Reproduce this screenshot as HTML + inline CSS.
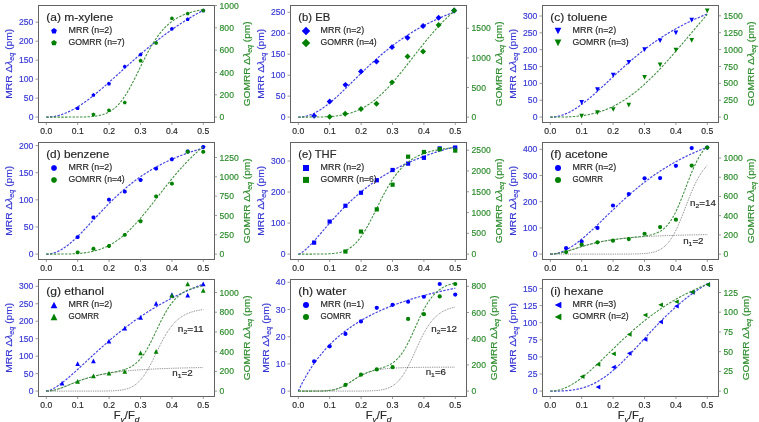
<!DOCTYPE html>
<html><head><meta charset="utf-8"><style>
html,body{margin:0;padding:0;background:#fff;width:759px;height:422px;overflow:hidden}
svg{display:block;filter:blur(0.3px);font-family:"Liberation Sans", sans-serif}
text{stroke:currentColor;stroke-width:0.16px;paint-order:stroke}
</style></head><body>
<svg width="759" height="422" viewBox="0 0 759 422">
<rect x="0" y="0" width="759" height="422" fill="#fff"/>
<g><path d="M46.30,117.10 L47.35,117.09 L48.41,117.05 L49.46,116.99 L50.51,116.90 L51.57,116.79 L52.62,116.66 L53.68,116.50 L54.73,116.32 L55.78,116.11 L56.84,115.88 L57.89,115.63 L58.94,115.36 L60.00,115.06 L61.05,114.73 L62.11,114.39 L63.16,114.02 L64.21,113.63 L65.27,113.22 L66.32,112.79 L67.37,112.34 L68.43,111.86 L69.48,111.37 L70.53,110.86 L71.59,110.32 L72.64,109.77 L73.70,109.20 L74.75,108.61 L75.80,108.00 L76.86,107.38 L77.91,106.74 L78.96,106.08 L80.02,105.40 L81.07,104.71 L82.13,104.01 L83.18,103.29 L84.23,102.55 L85.29,101.80 L86.34,101.04 L87.39,100.27 L88.45,99.48 L89.50,98.68 L90.56,97.87 L91.61,97.05 L92.66,96.22 L93.72,95.38 L94.77,94.52 L95.82,93.66 L96.88,92.80 L97.93,91.92 L98.98,91.03 L100.04,90.14 L101.09,89.24 L102.15,88.34 L103.20,87.43 L104.25,86.51 L105.31,85.59 L106.36,84.66 L107.41,83.73 L108.47,82.80 L109.52,81.86 L110.58,80.92 L111.63,79.97 L112.68,79.03 L113.74,78.08 L114.79,77.13 L115.84,76.18 L116.90,75.22 L117.95,74.27 L119.00,73.32 L120.06,72.36 L121.11,71.41 L122.17,70.46 L123.22,69.50 L124.27,68.55 L125.33,67.60 L126.38,66.65 L127.43,65.71 L128.49,64.76 L129.54,63.82 L130.60,62.88 L131.65,61.94 L132.70,61.01 L133.76,60.08 L134.81,59.15 L135.86,58.23 L136.92,57.31 L137.97,56.39 L139.02,55.48 L140.08,54.57 L141.13,53.66 L142.19,52.76 L143.24,51.87 L144.29,50.98 L145.35,50.09 L146.40,49.21 L147.45,48.33 L148.51,47.46 L149.56,46.60 L150.62,45.73 L151.67,44.88 L152.72,44.03 L153.78,43.19 L154.83,42.35 L155.88,41.51 L156.94,40.69 L157.99,39.87 L159.04,39.05 L160.10,38.24 L161.15,37.44 L162.21,36.64 L163.26,35.85 L164.31,35.06 L165.37,34.28 L166.42,33.51 L167.47,32.74 L168.53,31.98 L169.58,31.22 L170.64,30.47 L171.69,29.73 L172.74,28.99 L173.80,28.26 L174.85,27.53 L175.90,26.81 L176.96,26.10 L178.01,25.39 L179.07,24.69 L180.12,24.00 L181.17,23.31 L182.23,22.63 L183.28,21.95 L184.33,21.28 L185.39,20.62 L186.44,19.96 L187.49,19.30 L188.55,18.66 L189.60,18.02 L190.66,17.38 L191.71,16.75 L192.76,16.13 L193.82,15.51 L194.87,14.90 L195.92,14.29 L196.98,13.69 L198.03,13.10 L199.09,12.51 L200.14,11.93 L201.19,11.35 L202.25,10.77 L203.30,10.21" fill="none" stroke="#4646de" stroke-width="1.2" stroke-dasharray="2.4 1.35"/>
<polygon points="77.65,106.31 79.64,107.76 78.88,110.11 76.41,110.11 75.65,107.76" fill="#0000ff"/>
<polygon points="93.45,93.00 95.44,94.45 94.68,96.80 92.21,96.80 91.45,94.45" fill="#0000ff"/>
<polygon points="108.97,81.64 110.97,83.09 110.21,85.43 107.74,85.43 106.98,83.09" fill="#0000ff"/>
<polygon points="124.78,64.45 126.77,65.90 126.01,68.25 123.54,68.25 122.78,65.90" fill="#0000ff"/>
<polygon points="140.58,52.53 142.58,53.98 141.81,56.32 139.34,56.32 138.58,53.98" fill="#0000ff"/>
<polygon points="171.91,26.74 173.90,28.19 173.14,30.54 170.67,30.54 169.91,28.19" fill="#0000ff"/>
<polygon points="187.71,17.32 189.71,18.77 188.94,21.12 186.47,21.12 185.71,18.77" fill="#0000ff"/>
<polygon points="203.23,8.44 205.23,9.90 204.47,12.24 202.00,12.24 201.24,9.90" fill="#0000ff"/>
<path d="M46.30,117.10 L47.35,117.10 L48.41,117.10 L49.46,117.10 L50.51,117.10 L51.57,117.10 L52.62,117.10 L53.68,117.10 L54.73,117.10 L55.78,117.10 L56.84,117.10 L57.89,117.10 L58.94,117.10 L60.00,117.10 L61.05,117.10 L62.11,117.10 L63.16,117.10 L64.21,117.10 L65.27,117.10 L66.32,117.10 L67.37,117.10 L68.43,117.10 L69.48,117.09 L70.53,117.09 L71.59,117.09 L72.64,117.09 L73.70,117.08 L74.75,117.08 L75.80,117.07 L76.86,117.07 L77.91,117.06 L78.96,117.04 L80.02,117.03 L81.07,117.01 L82.13,116.99 L83.18,116.97 L84.23,116.94 L85.29,116.91 L86.34,116.87 L87.39,116.82 L88.45,116.77 L89.50,116.71 L90.56,116.64 L91.61,116.56 L92.66,116.46 L93.72,116.35 L94.77,116.23 L95.82,116.09 L96.88,115.93 L97.93,115.75 L98.98,115.55 L100.04,115.32 L101.09,115.07 L102.15,114.78 L103.20,114.47 L104.25,114.12 L105.31,113.73 L106.36,113.30 L107.41,112.83 L108.47,112.31 L109.52,111.74 L110.58,111.11 L111.63,110.44 L112.68,109.70 L113.74,108.90 L114.79,108.04 L115.84,107.11 L116.90,106.11 L117.95,105.04 L119.00,103.89 L120.06,102.67 L121.11,101.38 L122.17,100.01 L123.22,98.57 L124.27,97.05 L125.33,95.46 L126.38,93.80 L127.43,92.07 L128.49,90.28 L129.54,88.42 L130.60,86.51 L131.65,84.54 L132.70,82.53 L133.76,80.48 L134.81,78.39 L135.86,76.28 L136.92,74.14 L137.97,71.99 L139.02,69.83 L140.08,67.67 L141.13,65.52 L142.19,63.38 L143.24,61.25 L144.29,59.15 L145.35,57.08 L146.40,55.04 L147.45,53.05 L148.51,51.09 L149.56,49.18 L150.62,47.32 L151.67,45.51 L152.72,43.76 L153.78,42.06 L154.83,40.41 L155.88,38.83 L156.94,37.30 L157.99,35.83 L159.04,34.42 L160.10,33.06 L161.15,31.77 L162.21,30.52 L163.26,29.33 L164.31,28.20 L165.37,27.11 L166.42,26.08 L167.47,25.09 L168.53,24.15 L169.58,23.26 L170.64,22.41 L171.69,21.60 L172.74,20.83 L173.80,20.10 L174.85,19.41 L175.90,18.75 L176.96,18.12 L178.01,17.53 L179.07,16.96 L180.12,16.43 L181.17,15.92 L182.23,15.44 L183.28,14.98 L184.33,14.55 L185.39,14.14 L186.44,13.75 L187.49,13.38 L188.55,13.03 L189.60,12.70 L190.66,12.38 L191.71,12.08 L192.76,11.80 L193.82,11.53 L194.87,11.27 L195.92,11.03 L196.98,10.80 L198.03,10.58 L199.09,10.37 L200.14,10.18 L201.19,9.99 L202.25,9.81 L203.30,9.64" fill="none" stroke="#3d8d3d" stroke-width="1.05" stroke-dasharray="2.4 1.35"/>
<polygon points="93.45,112.41 95.44,113.86 94.68,116.21 92.21,116.21 91.45,113.86" fill="#008000"/>
<polygon points="108.97,108.25 110.97,109.70 110.21,112.05 107.74,112.05 106.98,109.70" fill="#008000"/>
<polygon points="124.78,100.49 126.77,101.94 126.01,104.29 123.54,104.29 122.78,101.94" fill="#008000"/>
<polygon points="140.58,58.62 142.58,60.08 141.81,62.42 139.34,62.42 138.58,60.08" fill="#008000"/>
<polygon points="156.10,40.88 158.10,42.33 157.34,44.68 154.87,44.68 154.11,42.33" fill="#008000"/>
<polygon points="171.91,16.21 173.90,17.66 173.14,20.01 170.67,20.01 169.91,17.66" fill="#008000"/>
<polygon points="187.71,11.49 189.71,12.95 188.94,15.29 186.47,15.29 185.71,12.95" fill="#008000"/>
<polygon points="203.23,8.44 205.23,9.90 204.47,12.24 202.00,12.24 201.24,9.90" fill="#008000"/>
<rect x="38.5" y="5.5" width="176" height="117" fill="none" stroke="#636363" stroke-width="1"/>
<line x1="46.30" y1="122.5" x2="46.30" y2="125.0" stroke="#808080" stroke-width="0.8"/>
<text x="46.30" y="133.80" font-size="8.60" fill="#262626" color="#262626" text-anchor="middle" textLength="11.93" lengthAdjust="spacingAndGlyphs">0.0</text>
<line x1="77.70" y1="122.5" x2="77.70" y2="125.0" stroke="#808080" stroke-width="0.8"/>
<text x="77.70" y="133.80" font-size="8.60" fill="#262626" color="#262626" text-anchor="middle" textLength="11.93" lengthAdjust="spacingAndGlyphs">0.1</text>
<line x1="109.10" y1="122.5" x2="109.10" y2="125.0" stroke="#808080" stroke-width="0.8"/>
<text x="109.10" y="133.80" font-size="8.60" fill="#262626" color="#262626" text-anchor="middle" textLength="11.93" lengthAdjust="spacingAndGlyphs">0.2</text>
<line x1="140.50" y1="122.5" x2="140.50" y2="125.0" stroke="#808080" stroke-width="0.8"/>
<text x="140.50" y="133.80" font-size="8.60" fill="#262626" color="#262626" text-anchor="middle" textLength="11.93" lengthAdjust="spacingAndGlyphs">0.3</text>
<line x1="171.90" y1="122.5" x2="171.90" y2="125.0" stroke="#808080" stroke-width="0.8"/>
<text x="171.90" y="133.80" font-size="8.60" fill="#262626" color="#262626" text-anchor="middle" textLength="11.93" lengthAdjust="spacingAndGlyphs">0.4</text>
<line x1="203.30" y1="122.5" x2="203.30" y2="125.0" stroke="#808080" stroke-width="0.8"/>
<text x="203.30" y="133.80" font-size="8.60" fill="#262626" color="#262626" text-anchor="middle" textLength="11.93" lengthAdjust="spacingAndGlyphs">0.5</text>
<line x1="35.5" y1="117.10" x2="38.5" y2="117.10" stroke="#808080" stroke-width="0.8"/>
<text x="33.40" y="120.15" font-size="8.60" fill="#3535d2" color="#3535d2" text-anchor="end" textLength="4.77" lengthAdjust="spacingAndGlyphs">0</text>
<line x1="35.5" y1="98.12" x2="38.5" y2="98.12" stroke="#808080" stroke-width="0.8"/>
<text x="33.40" y="101.17" font-size="8.60" fill="#3535d2" color="#3535d2" text-anchor="end" textLength="9.54" lengthAdjust="spacingAndGlyphs">50</text>
<line x1="35.5" y1="79.14" x2="38.5" y2="79.14" stroke="#808080" stroke-width="0.8"/>
<text x="33.40" y="82.19" font-size="8.60" fill="#3535d2" color="#3535d2" text-anchor="end" textLength="14.32" lengthAdjust="spacingAndGlyphs">100</text>
<line x1="35.5" y1="60.16" x2="38.5" y2="60.16" stroke="#808080" stroke-width="0.8"/>
<text x="33.40" y="63.21" font-size="8.60" fill="#3535d2" color="#3535d2" text-anchor="end" textLength="14.32" lengthAdjust="spacingAndGlyphs">150</text>
<line x1="35.5" y1="41.18" x2="38.5" y2="41.18" stroke="#808080" stroke-width="0.8"/>
<text x="33.40" y="44.23" font-size="8.60" fill="#3535d2" color="#3535d2" text-anchor="end" textLength="14.32" lengthAdjust="spacingAndGlyphs">200</text>
<line x1="35.5" y1="22.20" x2="38.5" y2="22.20" stroke="#808080" stroke-width="0.8"/>
<text x="33.40" y="25.25" font-size="8.60" fill="#3535d2" color="#3535d2" text-anchor="end" textLength="14.32" lengthAdjust="spacingAndGlyphs">250</text>
<line x1="214.5" y1="117.10" x2="217.0" y2="117.10" stroke="#808080" stroke-width="0.8"/>
<text x="219.60" y="120.15" font-size="8.60" fill="#2a8a2a" color="#2a8a2a" textLength="4.77" lengthAdjust="spacingAndGlyphs">0</text>
<line x1="214.5" y1="94.78" x2="217.0" y2="94.78" stroke="#808080" stroke-width="0.8"/>
<text x="219.60" y="97.83" font-size="8.60" fill="#2a8a2a" color="#2a8a2a" textLength="14.32" lengthAdjust="spacingAndGlyphs">200</text>
<line x1="214.5" y1="72.46" x2="217.0" y2="72.46" stroke="#808080" stroke-width="0.8"/>
<text x="219.60" y="75.51" font-size="8.60" fill="#2a8a2a" color="#2a8a2a" textLength="14.32" lengthAdjust="spacingAndGlyphs">400</text>
<line x1="214.5" y1="50.14" x2="217.0" y2="50.14" stroke="#808080" stroke-width="0.8"/>
<text x="219.60" y="53.19" font-size="8.60" fill="#2a8a2a" color="#2a8a2a" textLength="14.32" lengthAdjust="spacingAndGlyphs">600</text>
<line x1="214.5" y1="27.82" x2="217.0" y2="27.82" stroke="#808080" stroke-width="0.8"/>
<text x="219.60" y="30.87" font-size="8.60" fill="#2a8a2a" color="#2a8a2a" textLength="14.32" lengthAdjust="spacingAndGlyphs">800</text>
<line x1="214.5" y1="5.50" x2="217.0" y2="5.50" stroke="#808080" stroke-width="0.8"/>
<text x="219.60" y="8.55" font-size="8.60" fill="#2a8a2a" color="#2a8a2a" textLength="19.09" lengthAdjust="spacingAndGlyphs">1000</text>
<text x="46.20" y="20.70" font-size="11.13" fill="#262626" color="#262626" textLength="66.90" lengthAdjust="spacingAndGlyphs">(a) m-xylene</text>
<polygon points="54.00,28.00 56.85,30.07 55.76,33.43 52.24,33.43 51.15,30.07" fill="#0000ff"/>
<polygon points="54.00,39.90 56.85,41.97 55.76,45.33 52.24,45.33 51.15,41.97" fill="#008000"/>
<text x="68.60" y="33.20" font-size="8.40" fill="#262626" color="#262626" textLength="43.67" lengthAdjust="spacingAndGlyphs">MRR (n=2)</text>
<text x="68.60" y="45.10" font-size="8.40" fill="#262626" color="#262626" textLength="56.16" lengthAdjust="spacingAndGlyphs">GOMRR (n=7)</text></g>
<g><path d="M298.30,117.10 L299.35,117.08 L300.41,117.03 L301.46,116.94 L302.51,116.82 L303.57,116.66 L304.62,116.46 L305.68,116.24 L306.73,115.97 L307.78,115.68 L308.84,115.35 L309.89,114.99 L310.94,114.59 L312.00,114.16 L313.05,113.71 L314.11,113.22 L315.16,112.70 L316.21,112.15 L317.27,111.58 L318.32,110.97 L319.37,110.34 L320.43,109.68 L321.48,109.00 L322.53,108.29 L323.59,107.56 L324.64,106.81 L325.70,106.04 L326.75,105.24 L327.80,104.42 L328.86,103.59 L329.91,102.74 L330.96,101.87 L332.02,100.98 L333.07,100.08 L334.13,99.16 L335.18,98.23 L336.23,97.29 L337.29,96.33 L338.34,95.37 L339.39,94.39 L340.45,93.41 L341.50,92.41 L342.56,91.41 L343.61,90.40 L344.66,89.39 L345.72,88.37 L346.77,87.35 L347.82,86.32 L348.88,85.29 L349.93,84.25 L350.98,83.22 L352.04,82.18 L353.09,81.14 L354.15,80.11 L355.20,79.07 L356.25,78.04 L357.31,77.00 L358.36,75.97 L359.41,74.94 L360.47,73.92 L361.52,72.89 L362.58,71.87 L363.63,70.86 L364.68,69.85 L365.74,68.85 L366.79,67.85 L367.84,66.85 L368.90,65.87 L369.95,64.89 L371.00,63.91 L372.06,62.94 L373.11,61.98 L374.17,61.03 L375.22,60.08 L376.27,59.14 L377.33,58.21 L378.38,57.29 L379.43,56.37 L380.49,55.47 L381.54,54.57 L382.60,53.68 L383.65,52.80 L384.70,51.92 L385.76,51.06 L386.81,50.20 L387.86,49.35 L388.92,48.52 L389.97,47.69 L391.02,46.86 L392.08,46.05 L393.13,45.25 L394.19,44.45 L395.24,43.67 L396.29,42.89 L397.35,42.12 L398.40,41.37 L399.45,40.62 L400.51,39.87 L401.56,39.14 L402.62,38.42 L403.67,37.70 L404.72,37.00 L405.78,36.30 L406.83,35.61 L407.88,34.93 L408.94,34.25 L409.99,33.59 L411.04,32.93 L412.10,32.28 L413.15,31.64 L414.21,31.01 L415.26,30.39 L416.31,29.77 L417.37,29.16 L418.42,28.56 L419.47,27.97 L420.53,27.38 L421.58,26.81 L422.64,26.24 L423.69,25.67 L424.74,25.12 L425.80,24.57 L426.85,24.03 L427.90,23.49 L428.96,22.96 L430.01,22.44 L431.07,21.93 L432.12,21.42 L433.17,20.92 L434.23,20.43 L435.28,19.94 L436.33,19.46 L437.39,18.98 L438.44,18.51 L439.49,18.05 L440.55,17.59 L441.60,17.14 L442.66,16.70 L443.71,16.26 L444.76,15.82 L445.82,15.40 L446.87,14.97 L447.92,14.56 L448.98,14.15 L450.03,13.74 L451.09,13.34 L452.14,12.94 L453.19,12.55 L454.25,12.17 L455.30,11.79" fill="none" stroke="#4646de" stroke-width="1.2" stroke-dasharray="2.4 1.35"/>
<polygon points="314.12,112.93 317.09,115.90 314.12,118.86 311.15,115.90" fill="#0000ff"/>
<polygon points="329.65,98.51 332.61,101.48 329.65,104.45 326.68,101.48" fill="#0000ff"/>
<polygon points="345.45,81.88 348.42,84.84 345.45,87.81 342.48,84.84" fill="#0000ff"/>
<polygon points="360.97,68.57 363.94,71.54 360.97,74.51 358.00,71.54" fill="#0000ff"/>
<polygon points="376.50,58.59 379.47,61.56 376.50,64.53 373.53,61.56" fill="#0000ff"/>
<polygon points="392.02,44.17 394.99,47.14 392.02,50.11 389.05,47.14" fill="#0000ff"/>
<polygon points="407.55,34.74 410.52,37.71 407.55,40.68 404.58,37.71" fill="#0000ff"/>
<polygon points="423.07,23.10 426.04,26.07 423.07,29.04 420.11,26.07" fill="#0000ff"/>
<polygon points="438.60,14.78 441.57,17.75 438.60,20.72 435.63,17.75" fill="#0000ff"/>
<polygon points="454.13,7.58 457.09,10.54 454.13,13.51 451.16,10.54" fill="#0000ff"/>
<path d="M298.30,117.10 L299.35,117.10 L300.41,117.10 L301.46,117.10 L302.51,117.10 L303.57,117.10 L304.62,117.10 L305.68,117.10 L306.73,117.10 L307.78,117.10 L308.84,117.09 L309.89,117.09 L310.94,117.09 L312.00,117.08 L313.05,117.07 L314.11,117.06 L315.16,117.05 L316.21,117.04 L317.27,117.03 L318.32,117.01 L319.37,116.99 L320.43,116.97 L321.48,116.94 L322.53,116.91 L323.59,116.87 L324.64,116.83 L325.70,116.78 L326.75,116.73 L327.80,116.68 L328.86,116.61 L329.91,116.54 L330.96,116.46 L332.02,116.38 L333.07,116.28 L334.13,116.18 L335.18,116.07 L336.23,115.95 L337.29,115.81 L338.34,115.67 L339.39,115.52 L340.45,115.35 L341.50,115.17 L342.56,114.98 L343.61,114.77 L344.66,114.55 L345.72,114.31 L346.77,114.06 L347.82,113.79 L348.88,113.51 L349.93,113.21 L350.98,112.89 L352.04,112.55 L353.09,112.20 L354.15,111.82 L355.20,111.43 L356.25,111.01 L357.31,110.58 L358.36,110.12 L359.41,109.64 L360.47,109.14 L361.52,108.62 L362.58,108.07 L363.63,107.50 L364.68,106.91 L365.74,106.29 L366.79,105.65 L367.84,104.99 L368.90,104.30 L369.95,103.58 L371.00,102.85 L372.06,102.08 L373.11,101.30 L374.17,100.48 L375.22,99.65 L376.27,98.78 L377.33,97.90 L378.38,96.99 L379.43,96.05 L380.49,95.10 L381.54,94.12 L382.60,93.11 L383.65,92.09 L384.70,91.04 L385.76,89.97 L386.81,88.88 L387.86,87.77 L388.92,86.64 L389.97,85.49 L391.02,84.32 L392.08,83.13 L393.13,81.93 L394.19,80.71 L395.24,79.48 L396.29,78.23 L397.35,76.97 L398.40,75.70 L399.45,74.41 L400.51,73.11 L401.56,71.81 L402.62,70.49 L403.67,69.17 L404.72,67.83 L405.78,66.50 L406.83,65.15 L407.88,63.81 L408.94,62.46 L409.99,61.10 L411.04,59.75 L412.10,58.39 L413.15,57.04 L414.21,55.68 L415.26,54.33 L416.31,52.98 L417.37,51.63 L418.42,50.29 L419.47,48.95 L420.53,47.62 L421.58,46.30 L422.64,44.98 L423.69,43.67 L424.74,42.37 L425.80,41.08 L426.85,39.79 L427.90,38.52 L428.96,37.26 L430.01,36.01 L431.07,34.77 L432.12,33.54 L433.17,32.32 L434.23,31.12 L435.28,29.93 L436.33,28.76 L437.39,27.59 L438.44,26.44 L439.49,25.31 L440.55,24.19 L441.60,23.09 L442.66,21.99 L443.71,20.92 L444.76,19.86 L445.82,18.81 L446.87,17.78 L447.92,16.77 L448.98,15.77 L450.03,14.78 L451.09,13.81 L452.14,12.86 L453.19,11.92 L454.25,11.00 L455.30,10.09" fill="none" stroke="#3d8d3d" stroke-width="1.05" stroke-dasharray="2.4 1.35"/>
<polygon points="329.65,113.76 332.61,116.73 329.65,119.70 326.68,116.73" fill="#008000"/>
<polygon points="345.17,110.71 348.14,113.68 345.17,116.65 342.20,113.68" fill="#008000"/>
<polygon points="360.97,106.00 363.94,108.96 360.97,111.93 358.00,108.96" fill="#008000"/>
<polygon points="376.50,100.73 379.47,103.70 376.50,106.67 373.53,103.70" fill="#008000"/>
<polygon points="392.02,79.38 394.99,82.35 392.02,85.32 389.05,82.35" fill="#008000"/>
<polygon points="407.55,53.60 410.52,56.57 407.55,59.54 404.58,56.57" fill="#008000"/>
<polygon points="423.07,48.61 426.04,51.58 423.07,54.55 420.11,51.58" fill="#008000"/>
<polygon points="438.60,21.99 441.57,24.96 438.60,27.93 435.63,24.96" fill="#008000"/>
<polygon points="454.13,7.58 457.09,10.54 454.13,13.51 451.16,10.54" fill="#008000"/>
<rect x="290.5" y="5.5" width="176" height="117" fill="none" stroke="#636363" stroke-width="1"/>
<line x1="298.30" y1="122.5" x2="298.30" y2="125.0" stroke="#808080" stroke-width="0.8"/>
<text x="298.30" y="133.80" font-size="8.60" fill="#262626" color="#262626" text-anchor="middle" textLength="11.93" lengthAdjust="spacingAndGlyphs">0.0</text>
<line x1="329.70" y1="122.5" x2="329.70" y2="125.0" stroke="#808080" stroke-width="0.8"/>
<text x="329.70" y="133.80" font-size="8.60" fill="#262626" color="#262626" text-anchor="middle" textLength="11.93" lengthAdjust="spacingAndGlyphs">0.1</text>
<line x1="361.10" y1="122.5" x2="361.10" y2="125.0" stroke="#808080" stroke-width="0.8"/>
<text x="361.10" y="133.80" font-size="8.60" fill="#262626" color="#262626" text-anchor="middle" textLength="11.93" lengthAdjust="spacingAndGlyphs">0.2</text>
<line x1="392.50" y1="122.5" x2="392.50" y2="125.0" stroke="#808080" stroke-width="0.8"/>
<text x="392.50" y="133.80" font-size="8.60" fill="#262626" color="#262626" text-anchor="middle" textLength="11.93" lengthAdjust="spacingAndGlyphs">0.3</text>
<line x1="423.90" y1="122.5" x2="423.90" y2="125.0" stroke="#808080" stroke-width="0.8"/>
<text x="423.90" y="133.80" font-size="8.60" fill="#262626" color="#262626" text-anchor="middle" textLength="11.93" lengthAdjust="spacingAndGlyphs">0.4</text>
<line x1="455.30" y1="122.5" x2="455.30" y2="125.0" stroke="#808080" stroke-width="0.8"/>
<text x="455.30" y="133.80" font-size="8.60" fill="#262626" color="#262626" text-anchor="middle" textLength="11.93" lengthAdjust="spacingAndGlyphs">0.5</text>
<line x1="287.5" y1="117.10" x2="290.5" y2="117.10" stroke="#808080" stroke-width="0.8"/>
<text x="285.40" y="120.15" font-size="8.60" fill="#3535d2" color="#3535d2" text-anchor="end" textLength="4.77" lengthAdjust="spacingAndGlyphs">0</text>
<line x1="287.5" y1="96.14" x2="290.5" y2="96.14" stroke="#808080" stroke-width="0.8"/>
<text x="285.40" y="99.19" font-size="8.60" fill="#3535d2" color="#3535d2" text-anchor="end" textLength="9.54" lengthAdjust="spacingAndGlyphs">50</text>
<line x1="287.5" y1="75.18" x2="290.5" y2="75.18" stroke="#808080" stroke-width="0.8"/>
<text x="285.40" y="78.23" font-size="8.60" fill="#3535d2" color="#3535d2" text-anchor="end" textLength="14.32" lengthAdjust="spacingAndGlyphs">100</text>
<line x1="287.5" y1="54.22" x2="290.5" y2="54.22" stroke="#808080" stroke-width="0.8"/>
<text x="285.40" y="57.27" font-size="8.60" fill="#3535d2" color="#3535d2" text-anchor="end" textLength="14.32" lengthAdjust="spacingAndGlyphs">150</text>
<line x1="287.5" y1="33.26" x2="290.5" y2="33.26" stroke="#808080" stroke-width="0.8"/>
<text x="285.40" y="36.31" font-size="8.60" fill="#3535d2" color="#3535d2" text-anchor="end" textLength="14.32" lengthAdjust="spacingAndGlyphs">200</text>
<line x1="287.5" y1="12.30" x2="290.5" y2="12.30" stroke="#808080" stroke-width="0.8"/>
<text x="285.40" y="15.35" font-size="8.60" fill="#3535d2" color="#3535d2" text-anchor="end" textLength="14.32" lengthAdjust="spacingAndGlyphs">250</text>
<line x1="466.5" y1="117.10" x2="469.0" y2="117.10" stroke="#808080" stroke-width="0.8"/>
<text x="471.60" y="120.15" font-size="8.60" fill="#2a8a2a" color="#2a8a2a" textLength="4.77" lengthAdjust="spacingAndGlyphs">0</text>
<line x1="466.5" y1="87.50" x2="469.0" y2="87.50" stroke="#808080" stroke-width="0.8"/>
<text x="471.60" y="90.55" font-size="8.60" fill="#2a8a2a" color="#2a8a2a" textLength="14.32" lengthAdjust="spacingAndGlyphs">500</text>
<line x1="466.5" y1="57.90" x2="469.0" y2="57.90" stroke="#808080" stroke-width="0.8"/>
<text x="471.60" y="60.95" font-size="8.60" fill="#2a8a2a" color="#2a8a2a" textLength="19.09" lengthAdjust="spacingAndGlyphs">1000</text>
<line x1="466.5" y1="28.30" x2="469.0" y2="28.30" stroke="#808080" stroke-width="0.8"/>
<text x="471.60" y="31.35" font-size="8.60" fill="#2a8a2a" color="#2a8a2a" textLength="19.09" lengthAdjust="spacingAndGlyphs">1500</text>
<text x="298.20" y="20.70" font-size="11.13" fill="#262626" color="#262626" textLength="32.03" lengthAdjust="spacingAndGlyphs">(b) EB</text>
<polygon points="306.00,26.76 310.24,31.00 306.00,35.24 301.76,31.00" fill="#0000ff"/>
<polygon points="306.00,38.66 310.24,42.90 306.00,47.14 301.76,42.90" fill="#008000"/>
<text x="320.60" y="33.20" font-size="8.40" fill="#262626" color="#262626" textLength="43.67" lengthAdjust="spacingAndGlyphs">MRR (n=2)</text>
<text x="320.60" y="45.10" font-size="8.40" fill="#262626" color="#262626" textLength="56.16" lengthAdjust="spacingAndGlyphs">GOMRR (n=4)</text></g>
<g><path d="M550.30,117.10 L551.35,117.08 L552.41,117.04 L553.46,116.96 L554.51,116.85 L555.57,116.71 L556.62,116.54 L557.68,116.34 L558.73,116.10 L559.78,115.84 L560.84,115.55 L561.89,115.23 L562.94,114.88 L564.00,114.50 L565.05,114.09 L566.11,113.65 L567.16,113.19 L568.21,112.70 L569.27,112.19 L570.32,111.65 L571.37,111.08 L572.43,110.50 L573.48,109.88 L574.53,109.25 L575.59,108.59 L576.64,107.91 L577.70,107.21 L578.75,106.49 L579.80,105.76 L580.86,105.00 L581.91,104.23 L582.96,103.43 L584.02,102.63 L585.07,101.80 L586.13,100.97 L587.18,100.12 L588.23,99.25 L589.29,98.37 L590.34,97.49 L591.39,96.59 L592.45,95.68 L593.50,94.76 L594.56,93.83 L595.61,92.89 L596.66,91.95 L597.72,91.00 L598.77,90.04 L599.82,89.08 L600.88,88.12 L601.93,87.14 L602.98,86.17 L604.04,85.19 L605.09,84.21 L606.15,83.23 L607.20,82.25 L608.25,81.26 L609.31,80.28 L610.36,79.30 L611.41,78.31 L612.47,77.33 L613.52,76.35 L614.58,75.37 L615.63,74.39 L616.68,73.42 L617.74,72.44 L618.79,71.48 L619.84,70.51 L620.90,69.55 L621.95,68.59 L623.00,67.64 L624.06,66.69 L625.11,65.75 L626.17,64.82 L627.22,63.88 L628.27,62.96 L629.33,62.04 L630.38,61.13 L631.43,60.22 L632.49,59.32 L633.54,58.43 L634.60,57.54 L635.65,56.66 L636.70,55.79 L637.76,54.92 L638.81,54.06 L639.86,53.21 L640.92,52.37 L641.97,51.53 L643.02,50.70 L644.08,49.88 L645.13,49.07 L646.19,48.26 L647.24,47.46 L648.29,46.67 L649.35,45.89 L650.40,45.11 L651.45,44.35 L652.51,43.59 L653.56,42.84 L654.62,42.09 L655.67,41.36 L656.72,40.63 L657.78,39.91 L658.83,39.20 L659.88,38.49 L660.94,37.80 L661.99,37.11 L663.04,36.43 L664.10,35.75 L665.15,35.09 L666.21,34.43 L667.26,33.78 L668.31,33.13 L669.37,32.50 L670.42,31.87 L671.47,31.25 L672.53,30.63 L673.58,30.03 L674.64,29.43 L675.69,28.83 L676.74,28.25 L677.80,27.67 L678.85,27.10 L679.90,26.53 L680.96,25.97 L682.01,25.42 L683.07,24.87 L684.12,24.33 L685.17,23.80 L686.23,23.28 L687.28,22.76 L688.33,22.24 L689.39,21.74 L690.44,21.23 L691.49,20.74 L692.55,20.25 L693.60,19.77 L694.66,19.29 L695.71,18.82 L696.76,18.35 L697.82,17.89 L698.87,17.44 L699.92,16.99 L700.98,16.54 L702.03,16.11 L703.09,15.67 L704.14,15.25 L705.19,14.82 L706.25,14.41 L707.30,13.99" fill="none" stroke="#4646de" stroke-width="1.2" stroke-dasharray="2.4 1.35"/>
<polygon points="581.65,104.63 584.00,99.93 579.29,99.93" fill="#0000ff"/>
<polygon points="597.45,91.88 599.80,87.17 595.10,87.17" fill="#0000ff"/>
<polygon points="613.25,77.46 615.60,72.76 610.90,72.76" fill="#0000ff"/>
<polygon points="628.78,64.71 631.13,60.00 626.42,60.00" fill="#0000ff"/>
<polygon points="644.58,51.96 646.93,47.25 642.23,47.25" fill="#0000ff"/>
<polygon points="660.10,43.08 662.46,38.38 657.75,38.38" fill="#0000ff"/>
<polygon points="675.91,35.32 678.26,30.62 673.55,30.62" fill="#0000ff"/>
<polygon points="691.71,22.57 694.06,17.86 689.36,17.86" fill="#0000ff"/>
<path d="M550.30,117.10 L551.35,117.10 L552.41,117.10 L553.46,117.10 L554.51,117.10 L555.57,117.09 L556.62,117.09 L557.68,117.08 L558.73,117.07 L559.78,117.06 L560.84,117.05 L561.89,117.03 L562.94,117.01 L564.00,116.98 L565.05,116.95 L566.11,116.92 L567.16,116.88 L568.21,116.84 L569.27,116.79 L570.32,116.74 L571.37,116.68 L572.43,116.61 L573.48,116.54 L574.53,116.46 L575.59,116.37 L576.64,116.28 L577.70,116.17 L578.75,116.06 L579.80,115.94 L580.86,115.82 L581.91,115.68 L582.96,115.53 L584.02,115.38 L585.07,115.21 L586.13,115.04 L587.18,114.85 L588.23,114.65 L589.29,114.45 L590.34,114.23 L591.39,114.00 L592.45,113.76 L593.50,113.50 L594.56,113.24 L595.61,112.96 L596.66,112.67 L597.72,112.37 L598.77,112.05 L599.82,111.72 L600.88,111.38 L601.93,111.02 L602.98,110.65 L604.04,110.27 L605.09,109.87 L606.15,109.46 L607.20,109.03 L608.25,108.59 L609.31,108.14 L610.36,107.67 L611.41,107.18 L612.47,106.68 L613.52,106.17 L614.58,105.64 L615.63,105.09 L616.68,104.53 L617.74,103.95 L618.79,103.36 L619.84,102.76 L620.90,102.13 L621.95,101.50 L623.00,100.84 L624.06,100.17 L625.11,99.49 L626.17,98.79 L627.22,98.08 L628.27,97.35 L629.33,96.60 L630.38,95.84 L631.43,95.07 L632.49,94.28 L633.54,93.47 L634.60,92.66 L635.65,91.82 L636.70,90.97 L637.76,90.11 L638.81,89.23 L639.86,88.34 L640.92,87.44 L641.97,86.52 L643.02,85.59 L644.08,84.65 L645.13,83.69 L646.19,82.72 L647.24,81.73 L648.29,80.74 L649.35,79.73 L650.40,78.71 L651.45,77.68 L652.51,76.64 L653.56,75.59 L654.62,74.52 L655.67,73.45 L656.72,72.36 L657.78,71.27 L658.83,70.17 L659.88,69.05 L660.94,67.93 L661.99,66.80 L663.04,65.66 L664.10,64.51 L665.15,63.36 L666.21,62.19 L667.26,61.02 L668.31,59.85 L669.37,58.66 L670.42,57.47 L671.47,56.28 L672.53,55.08 L673.58,53.87 L674.64,52.66 L675.69,51.44 L676.74,50.22 L677.80,49.00 L678.85,47.77 L679.90,46.54 L680.96,45.31 L682.01,44.07 L683.07,42.83 L684.12,41.59 L685.17,40.35 L686.23,39.10 L687.28,37.86 L688.33,36.61 L689.39,35.37 L690.44,34.12 L691.49,32.87 L692.55,31.63 L693.60,30.38 L694.66,29.14 L695.71,27.89 L696.76,26.65 L697.82,25.41 L698.87,24.17 L699.92,22.93 L700.98,21.70 L702.03,20.47 L703.09,19.24 L704.14,18.01 L705.19,16.79 L706.25,15.57 L707.30,14.36" fill="none" stroke="#3d8d3d" stroke-width="1.05" stroke-dasharray="2.4 1.35"/>
<polygon points="581.65,118.49 584.00,113.79 579.29,113.79" fill="#008000"/>
<polygon points="597.45,114.89 599.80,110.18 595.10,110.18" fill="#008000"/>
<polygon points="613.25,111.84 615.60,107.14 610.90,107.14" fill="#008000"/>
<polygon points="628.78,107.40 631.13,102.70 626.42,102.70" fill="#008000"/>
<polygon points="644.58,79.68 646.93,74.98 642.23,74.98" fill="#008000"/>
<polygon points="660.10,67.20 662.46,62.50 657.75,62.50" fill="#008000"/>
<polygon points="675.91,52.51 678.26,47.81 673.55,47.81" fill="#008000"/>
<polygon points="691.71,42.81 694.06,38.10 689.36,38.10" fill="#008000"/>
<polygon points="707.23,13.14 709.59,8.44 704.88,8.44" fill="#008000"/>
<rect x="542.5" y="5.5" width="176" height="117" fill="none" stroke="#636363" stroke-width="1"/>
<line x1="550.30" y1="122.5" x2="550.30" y2="125.0" stroke="#808080" stroke-width="0.8"/>
<text x="550.30" y="133.80" font-size="8.60" fill="#262626" color="#262626" text-anchor="middle" textLength="11.93" lengthAdjust="spacingAndGlyphs">0.0</text>
<line x1="581.70" y1="122.5" x2="581.70" y2="125.0" stroke="#808080" stroke-width="0.8"/>
<text x="581.70" y="133.80" font-size="8.60" fill="#262626" color="#262626" text-anchor="middle" textLength="11.93" lengthAdjust="spacingAndGlyphs">0.1</text>
<line x1="613.10" y1="122.5" x2="613.10" y2="125.0" stroke="#808080" stroke-width="0.8"/>
<text x="613.10" y="133.80" font-size="8.60" fill="#262626" color="#262626" text-anchor="middle" textLength="11.93" lengthAdjust="spacingAndGlyphs">0.2</text>
<line x1="644.50" y1="122.5" x2="644.50" y2="125.0" stroke="#808080" stroke-width="0.8"/>
<text x="644.50" y="133.80" font-size="8.60" fill="#262626" color="#262626" text-anchor="middle" textLength="11.93" lengthAdjust="spacingAndGlyphs">0.3</text>
<line x1="675.90" y1="122.5" x2="675.90" y2="125.0" stroke="#808080" stroke-width="0.8"/>
<text x="675.90" y="133.80" font-size="8.60" fill="#262626" color="#262626" text-anchor="middle" textLength="11.93" lengthAdjust="spacingAndGlyphs">0.4</text>
<line x1="707.30" y1="122.5" x2="707.30" y2="125.0" stroke="#808080" stroke-width="0.8"/>
<text x="707.30" y="133.80" font-size="8.60" fill="#262626" color="#262626" text-anchor="middle" textLength="11.93" lengthAdjust="spacingAndGlyphs">0.5</text>
<line x1="539.5" y1="117.10" x2="542.5" y2="117.10" stroke="#808080" stroke-width="0.8"/>
<text x="537.40" y="120.15" font-size="8.60" fill="#3535d2" color="#3535d2" text-anchor="end" textLength="4.77" lengthAdjust="spacingAndGlyphs">0</text>
<line x1="539.5" y1="100.25" x2="542.5" y2="100.25" stroke="#808080" stroke-width="0.8"/>
<text x="537.40" y="103.30" font-size="8.60" fill="#3535d2" color="#3535d2" text-anchor="end" textLength="9.54" lengthAdjust="spacingAndGlyphs">50</text>
<line x1="539.5" y1="83.40" x2="542.5" y2="83.40" stroke="#808080" stroke-width="0.8"/>
<text x="537.40" y="86.45" font-size="8.60" fill="#3535d2" color="#3535d2" text-anchor="end" textLength="14.32" lengthAdjust="spacingAndGlyphs">100</text>
<line x1="539.5" y1="66.55" x2="542.5" y2="66.55" stroke="#808080" stroke-width="0.8"/>
<text x="537.40" y="69.60" font-size="8.60" fill="#3535d2" color="#3535d2" text-anchor="end" textLength="14.32" lengthAdjust="spacingAndGlyphs">150</text>
<line x1="539.5" y1="49.70" x2="542.5" y2="49.70" stroke="#808080" stroke-width="0.8"/>
<text x="537.40" y="52.75" font-size="8.60" fill="#3535d2" color="#3535d2" text-anchor="end" textLength="14.32" lengthAdjust="spacingAndGlyphs">200</text>
<line x1="539.5" y1="32.85" x2="542.5" y2="32.85" stroke="#808080" stroke-width="0.8"/>
<text x="537.40" y="35.90" font-size="8.60" fill="#3535d2" color="#3535d2" text-anchor="end" textLength="14.32" lengthAdjust="spacingAndGlyphs">250</text>
<line x1="539.5" y1="16.00" x2="542.5" y2="16.00" stroke="#808080" stroke-width="0.8"/>
<text x="537.40" y="19.05" font-size="8.60" fill="#3535d2" color="#3535d2" text-anchor="end" textLength="14.32" lengthAdjust="spacingAndGlyphs">300</text>
<line x1="718.5" y1="117.10" x2="721.0" y2="117.10" stroke="#808080" stroke-width="0.8"/>
<text x="723.60" y="120.15" font-size="8.60" fill="#2a8a2a" color="#2a8a2a" textLength="4.77" lengthAdjust="spacingAndGlyphs">0</text>
<line x1="718.5" y1="100.22" x2="721.0" y2="100.22" stroke="#808080" stroke-width="0.8"/>
<text x="723.60" y="103.27" font-size="8.60" fill="#2a8a2a" color="#2a8a2a" textLength="14.32" lengthAdjust="spacingAndGlyphs">250</text>
<line x1="718.5" y1="83.33" x2="721.0" y2="83.33" stroke="#808080" stroke-width="0.8"/>
<text x="723.60" y="86.38" font-size="8.60" fill="#2a8a2a" color="#2a8a2a" textLength="14.32" lengthAdjust="spacingAndGlyphs">500</text>
<line x1="718.5" y1="66.45" x2="721.0" y2="66.45" stroke="#808080" stroke-width="0.8"/>
<text x="723.60" y="69.50" font-size="8.60" fill="#2a8a2a" color="#2a8a2a" textLength="14.32" lengthAdjust="spacingAndGlyphs">750</text>
<line x1="718.5" y1="49.57" x2="721.0" y2="49.57" stroke="#808080" stroke-width="0.8"/>
<text x="723.60" y="52.62" font-size="8.60" fill="#2a8a2a" color="#2a8a2a" textLength="19.09" lengthAdjust="spacingAndGlyphs">1000</text>
<line x1="718.5" y1="32.69" x2="721.0" y2="32.69" stroke="#808080" stroke-width="0.8"/>
<text x="723.60" y="35.74" font-size="8.60" fill="#2a8a2a" color="#2a8a2a" textLength="19.09" lengthAdjust="spacingAndGlyphs">1250</text>
<line x1="718.5" y1="15.80" x2="721.0" y2="15.80" stroke="#808080" stroke-width="0.8"/>
<text x="723.60" y="18.85" font-size="8.60" fill="#2a8a2a" color="#2a8a2a" textLength="19.09" lengthAdjust="spacingAndGlyphs">1500</text>
<text x="550.20" y="20.70" font-size="11.13" fill="#262626" color="#262626" textLength="56.99" lengthAdjust="spacingAndGlyphs">(c) toluene</text>
<polygon points="558.00,34.36 561.36,27.64 554.64,27.64" fill="#0000ff"/>
<polygon points="558.00,46.26 561.36,39.54 554.64,39.54" fill="#008000"/>
<text x="572.60" y="33.20" font-size="8.40" fill="#262626" color="#262626" textLength="43.67" lengthAdjust="spacingAndGlyphs">MRR (n=2)</text>
<text x="572.60" y="45.10" font-size="8.40" fill="#262626" color="#262626" textLength="56.16" lengthAdjust="spacingAndGlyphs">GOMRR (n=3)</text></g>
<g><path d="M46.30,254.10 L47.35,254.08 L48.41,254.01 L49.46,253.89 L50.51,253.73 L51.57,253.53 L52.62,253.28 L53.68,252.99 L54.73,252.65 L55.78,252.27 L56.84,251.85 L57.89,251.38 L58.94,250.88 L60.00,250.33 L61.05,249.75 L62.11,249.13 L63.16,248.48 L64.21,247.79 L65.27,247.06 L66.32,246.30 L67.37,245.52 L68.43,244.70 L69.48,243.85 L70.53,242.98 L71.59,242.08 L72.64,241.15 L73.70,240.21 L74.75,239.24 L75.80,238.25 L76.86,237.24 L77.91,236.22 L78.96,235.18 L80.02,234.12 L81.07,233.05 L82.13,231.97 L83.18,230.88 L84.23,229.78 L85.29,228.67 L86.34,227.55 L87.39,226.43 L88.45,225.30 L89.50,224.17 L90.56,223.04 L91.61,221.90 L92.66,220.76 L93.72,219.63 L94.77,218.49 L95.82,217.35 L96.88,216.22 L97.93,215.09 L98.98,213.97 L100.04,212.84 L101.09,211.73 L102.15,210.62 L103.20,209.51 L104.25,208.41 L105.31,207.32 L106.36,206.24 L107.41,205.17 L108.47,204.10 L109.52,203.04 L110.58,202.00 L111.63,200.96 L112.68,199.93 L113.74,198.91 L114.79,197.90 L115.84,196.91 L116.90,195.92 L117.95,194.94 L119.00,193.98 L120.06,193.02 L121.11,192.08 L122.17,191.15 L123.22,190.23 L124.27,189.32 L125.33,188.42 L126.38,187.54 L127.43,186.66 L128.49,185.80 L129.54,184.95 L130.60,184.11 L131.65,183.28 L132.70,182.46 L133.76,181.66 L134.81,180.86 L135.86,180.08 L136.92,179.31 L137.97,178.54 L139.02,177.79 L140.08,177.05 L141.13,176.32 L142.19,175.61 L143.24,174.90 L144.29,174.20 L145.35,173.51 L146.40,172.84 L147.45,172.17 L148.51,171.51 L149.56,170.87 L150.62,170.23 L151.67,169.60 L152.72,168.98 L153.78,168.38 L154.83,167.78 L155.88,167.19 L156.94,166.61 L157.99,166.03 L159.04,165.47 L160.10,164.91 L161.15,164.37 L162.21,163.83 L163.26,163.30 L164.31,162.78 L165.37,162.26 L166.42,161.76 L167.47,161.26 L168.53,160.77 L169.58,160.29 L170.64,159.81 L171.69,159.34 L172.74,158.88 L173.80,158.43 L174.85,157.98 L175.90,157.54 L176.96,157.11 L178.01,156.68 L179.07,156.26 L180.12,155.85 L181.17,155.44 L182.23,155.04 L183.28,154.64 L184.33,154.25 L185.39,153.87 L186.44,153.49 L187.49,153.12 L188.55,152.75 L189.60,152.39 L190.66,152.03 L191.71,151.68 L192.76,151.34 L193.82,151.00 L194.87,150.66 L195.92,150.33 L196.98,150.00 L198.03,149.68 L199.09,149.37 L200.14,149.06 L201.19,148.75 L202.25,148.45 L203.30,148.15" fill="none" stroke="#4646de" stroke-width="1.2" stroke-dasharray="2.4 1.35"/>
<polygon points="79.59,237.90 78.45,239.03 76.84,239.03 75.70,237.90 75.70,236.29 76.84,235.15 78.45,235.15 79.59,236.29" fill="#0000ff"/>
<polygon points="95.39,218.21 94.25,219.35 92.64,219.35 91.51,218.21 91.51,216.61 92.64,215.47 94.25,215.47 95.39,216.61" fill="#0000ff"/>
<polygon points="110.91,200.47 109.78,201.61 108.17,201.61 107.03,200.47 107.03,198.86 108.17,197.73 109.78,197.73 110.91,198.86" fill="#0000ff"/>
<polygon points="126.72,192.43 125.58,193.57 123.97,193.57 122.84,192.43 122.84,190.82 123.97,189.69 125.58,189.69 126.72,190.82" fill="#0000ff"/>
<polygon points="142.52,180.79 141.38,181.92 139.77,181.92 138.64,180.79 138.64,179.18 139.77,178.04 141.38,178.04 142.52,179.18" fill="#0000ff"/>
<polygon points="158.04,169.42 156.91,170.56 155.30,170.56 154.16,169.42 154.16,167.81 155.30,166.67 156.91,166.67 158.04,167.81" fill="#0000ff"/>
<polygon points="173.85,159.99 172.71,161.13 171.10,161.13 169.97,159.99 169.97,158.39 171.10,157.25 172.71,157.25 173.85,158.39" fill="#0000ff"/>
<polygon points="189.65,152.23 188.51,153.37 186.91,153.37 185.77,152.23 185.77,150.62 186.91,149.49 188.51,149.49 189.65,150.62" fill="#0000ff"/>
<polygon points="205.17,147.79 204.04,148.93 202.43,148.93 201.29,147.79 201.29,146.19 202.43,145.05 204.04,145.05 205.17,146.19" fill="#0000ff"/>
<path d="M46.30,254.10 L47.35,254.10 L48.41,254.10 L49.46,254.10 L50.51,254.10 L51.57,254.10 L52.62,254.10 L53.68,254.10 L54.73,254.10 L55.78,254.10 L56.84,254.09 L57.89,254.09 L58.94,254.08 L60.00,254.08 L61.05,254.07 L62.11,254.06 L63.16,254.05 L64.21,254.04 L65.27,254.02 L66.32,254.00 L67.37,253.98 L68.43,253.96 L69.48,253.93 L70.53,253.90 L71.59,253.86 L72.64,253.81 L73.70,253.77 L74.75,253.71 L75.80,253.65 L76.86,253.58 L77.91,253.51 L78.96,253.43 L80.02,253.34 L81.07,253.24 L82.13,253.13 L83.18,253.01 L84.23,252.88 L85.29,252.74 L86.34,252.59 L87.39,252.42 L88.45,252.25 L89.50,252.06 L90.56,251.85 L91.61,251.63 L92.66,251.40 L93.72,251.15 L94.77,250.89 L95.82,250.61 L96.88,250.31 L97.93,249.99 L98.98,249.65 L100.04,249.30 L101.09,248.92 L102.15,248.53 L103.20,248.11 L104.25,247.68 L105.31,247.22 L106.36,246.74 L107.41,246.23 L108.47,245.71 L109.52,245.16 L110.58,244.58 L111.63,243.99 L112.68,243.37 L113.74,242.72 L114.79,242.05 L115.84,241.35 L116.90,240.63 L117.95,239.89 L119.00,239.12 L120.06,238.32 L121.11,237.50 L122.17,236.65 L123.22,235.78 L124.27,234.89 L125.33,233.97 L126.38,233.02 L127.43,232.05 L128.49,231.06 L129.54,230.05 L130.60,229.01 L131.65,227.95 L132.70,226.87 L133.76,225.76 L134.81,224.64 L135.86,223.50 L136.92,222.34 L137.97,221.16 L139.02,219.96 L140.08,218.75 L141.13,217.52 L142.19,216.27 L143.24,215.02 L144.29,213.74 L145.35,212.46 L146.40,211.17 L147.45,209.86 L148.51,208.54 L149.56,207.22 L150.62,205.89 L151.67,204.55 L152.72,203.21 L153.78,201.86 L154.83,200.51 L155.88,199.16 L156.94,197.81 L157.99,196.45 L159.04,195.10 L160.10,193.74 L161.15,192.39 L162.21,191.04 L163.26,189.69 L164.31,188.35 L165.37,187.02 L166.42,185.69 L167.47,184.36 L168.53,183.05 L169.58,181.74 L170.64,180.44 L171.69,179.15 L172.74,177.87 L173.80,176.60 L174.85,175.34 L175.90,174.10 L176.96,172.86 L178.01,171.64 L179.07,170.43 L180.12,169.23 L181.17,168.05 L182.23,166.88 L183.28,165.73 L184.33,164.58 L185.39,163.46 L186.44,162.35 L187.49,161.25 L188.55,160.17 L189.60,159.10 L190.66,158.05 L191.71,157.02 L192.76,155.99 L193.82,154.99 L194.87,154.00 L195.92,153.03 L196.98,152.07 L198.03,151.13 L199.09,150.20 L200.14,149.29 L201.19,148.39 L202.25,147.51 L203.30,146.65" fill="none" stroke="#3d8d3d" stroke-width="1.05" stroke-dasharray="2.4 1.35"/>
<polygon points="79.59,253.14 78.45,254.28 76.84,254.28 75.70,253.14 75.70,251.54 76.84,250.40 78.45,250.40 79.59,251.54" fill="#008000"/>
<polygon points="95.39,249.54 94.25,250.68 92.64,250.68 91.51,249.54 91.51,247.93 92.64,246.80 94.25,246.80 95.39,247.93" fill="#008000"/>
<polygon points="110.91,246.77 109.78,247.90 108.17,247.90 107.03,246.77 107.03,245.16 108.17,244.02 109.78,244.02 110.91,245.16" fill="#008000"/>
<polygon points="126.72,235.68 125.58,236.82 123.97,236.82 122.84,235.68 122.84,234.07 123.97,232.93 125.58,232.93 126.72,234.07" fill="#008000"/>
<polygon points="142.52,222.09 141.38,223.23 139.77,223.23 138.64,222.09 138.64,220.49 139.77,219.35 141.38,219.35 142.52,220.49" fill="#008000"/>
<polygon points="158.04,197.14 156.91,198.28 155.30,198.28 154.16,197.14 154.16,195.54 155.30,194.40 156.91,194.40 158.04,195.54" fill="#008000"/>
<polygon points="173.85,184.39 172.71,185.53 171.10,185.53 169.97,184.39 169.97,182.78 171.10,181.65 172.71,181.65 173.85,182.78" fill="#008000"/>
<polygon points="189.65,152.51 188.51,153.64 186.91,153.64 185.77,152.51 185.77,150.90 186.91,149.76 188.51,149.76 189.65,150.90" fill="#008000"/>
<polygon points="205.17,152.51 204.04,153.64 202.43,153.64 201.29,152.51 201.29,150.90 202.43,149.76 204.04,149.76 205.17,150.90" fill="#008000"/>
<rect x="38.5" y="142.5" width="176" height="117" fill="none" stroke="#636363" stroke-width="1"/>
<line x1="46.30" y1="259.5" x2="46.30" y2="262.0" stroke="#808080" stroke-width="0.8"/>
<text x="46.30" y="270.80" font-size="8.60" fill="#262626" color="#262626" text-anchor="middle" textLength="11.93" lengthAdjust="spacingAndGlyphs">0.0</text>
<line x1="77.70" y1="259.5" x2="77.70" y2="262.0" stroke="#808080" stroke-width="0.8"/>
<text x="77.70" y="270.80" font-size="8.60" fill="#262626" color="#262626" text-anchor="middle" textLength="11.93" lengthAdjust="spacingAndGlyphs">0.1</text>
<line x1="109.10" y1="259.5" x2="109.10" y2="262.0" stroke="#808080" stroke-width="0.8"/>
<text x="109.10" y="270.80" font-size="8.60" fill="#262626" color="#262626" text-anchor="middle" textLength="11.93" lengthAdjust="spacingAndGlyphs">0.2</text>
<line x1="140.50" y1="259.5" x2="140.50" y2="262.0" stroke="#808080" stroke-width="0.8"/>
<text x="140.50" y="270.80" font-size="8.60" fill="#262626" color="#262626" text-anchor="middle" textLength="11.93" lengthAdjust="spacingAndGlyphs">0.3</text>
<line x1="171.90" y1="259.5" x2="171.90" y2="262.0" stroke="#808080" stroke-width="0.8"/>
<text x="171.90" y="270.80" font-size="8.60" fill="#262626" color="#262626" text-anchor="middle" textLength="11.93" lengthAdjust="spacingAndGlyphs">0.4</text>
<line x1="203.30" y1="259.5" x2="203.30" y2="262.0" stroke="#808080" stroke-width="0.8"/>
<text x="203.30" y="270.80" font-size="8.60" fill="#262626" color="#262626" text-anchor="middle" textLength="11.93" lengthAdjust="spacingAndGlyphs">0.5</text>
<line x1="35.5" y1="254.10" x2="38.5" y2="254.10" stroke="#808080" stroke-width="0.8"/>
<text x="33.40" y="257.15" font-size="8.60" fill="#3535d2" color="#3535d2" text-anchor="end" textLength="4.77" lengthAdjust="spacingAndGlyphs">0</text>
<line x1="35.5" y1="226.97" x2="38.5" y2="226.97" stroke="#808080" stroke-width="0.8"/>
<text x="33.40" y="230.03" font-size="8.60" fill="#3535d2" color="#3535d2" text-anchor="end" textLength="9.54" lengthAdjust="spacingAndGlyphs">50</text>
<line x1="35.5" y1="199.85" x2="38.5" y2="199.85" stroke="#808080" stroke-width="0.8"/>
<text x="33.40" y="202.90" font-size="8.60" fill="#3535d2" color="#3535d2" text-anchor="end" textLength="14.32" lengthAdjust="spacingAndGlyphs">100</text>
<line x1="35.5" y1="172.72" x2="38.5" y2="172.72" stroke="#808080" stroke-width="0.8"/>
<text x="33.40" y="175.78" font-size="8.60" fill="#3535d2" color="#3535d2" text-anchor="end" textLength="14.32" lengthAdjust="spacingAndGlyphs">150</text>
<line x1="35.5" y1="145.60" x2="38.5" y2="145.60" stroke="#808080" stroke-width="0.8"/>
<text x="33.40" y="148.65" font-size="8.60" fill="#3535d2" color="#3535d2" text-anchor="end" textLength="14.32" lengthAdjust="spacingAndGlyphs">200</text>
<line x1="214.5" y1="254.10" x2="217.0" y2="254.10" stroke="#808080" stroke-width="0.8"/>
<text x="219.60" y="257.15" font-size="8.60" fill="#2a8a2a" color="#2a8a2a" textLength="4.77" lengthAdjust="spacingAndGlyphs">0</text>
<line x1="214.5" y1="234.78" x2="217.0" y2="234.78" stroke="#808080" stroke-width="0.8"/>
<text x="219.60" y="237.83" font-size="8.60" fill="#2a8a2a" color="#2a8a2a" textLength="14.32" lengthAdjust="spacingAndGlyphs">250</text>
<line x1="214.5" y1="215.45" x2="217.0" y2="215.45" stroke="#808080" stroke-width="0.8"/>
<text x="219.60" y="218.50" font-size="8.60" fill="#2a8a2a" color="#2a8a2a" textLength="14.32" lengthAdjust="spacingAndGlyphs">500</text>
<line x1="214.5" y1="196.12" x2="217.0" y2="196.12" stroke="#808080" stroke-width="0.8"/>
<text x="219.60" y="199.18" font-size="8.60" fill="#2a8a2a" color="#2a8a2a" textLength="14.32" lengthAdjust="spacingAndGlyphs">750</text>
<line x1="214.5" y1="176.80" x2="217.0" y2="176.80" stroke="#808080" stroke-width="0.8"/>
<text x="219.60" y="179.85" font-size="8.60" fill="#2a8a2a" color="#2a8a2a" textLength="19.09" lengthAdjust="spacingAndGlyphs">1000</text>
<line x1="214.5" y1="157.48" x2="217.0" y2="157.48" stroke="#808080" stroke-width="0.8"/>
<text x="219.60" y="160.53" font-size="8.60" fill="#2a8a2a" color="#2a8a2a" textLength="19.09" lengthAdjust="spacingAndGlyphs">1250</text>
<text x="46.20" y="157.70" font-size="11.13" fill="#262626" color="#262626" textLength="63.06" lengthAdjust="spacingAndGlyphs">(d) benzene</text>
<polygon points="56.77,169.15 55.15,170.77 52.85,170.77 51.23,169.15 51.23,166.85 52.85,165.23 55.15,165.23 56.77,166.85" fill="#0000ff"/>
<polygon points="56.77,181.05 55.15,182.67 52.85,182.67 51.23,181.05 51.23,178.75 52.85,177.13 55.15,177.13 56.77,178.75" fill="#008000"/>
<text x="68.60" y="170.20" font-size="8.40" fill="#262626" color="#262626" textLength="43.67" lengthAdjust="spacingAndGlyphs">MRR (n=2)</text>
<text x="68.60" y="182.10" font-size="8.40" fill="#262626" color="#262626" textLength="56.16" lengthAdjust="spacingAndGlyphs">GOMRR (n=4)</text></g>
<g><path d="M298.30,254.10 L299.35,253.83 L300.41,253.35 L301.46,252.75 L302.51,252.05 L303.57,251.27 L304.62,250.42 L305.68,249.52 L306.73,248.57 L307.78,247.57 L308.84,246.54 L309.89,245.47 L310.94,244.38 L312.00,243.26 L313.05,242.12 L314.11,240.96 L315.16,239.78 L316.21,238.59 L317.27,237.40 L318.32,236.19 L319.37,234.98 L320.43,233.76 L321.48,232.54 L322.53,231.31 L323.59,230.09 L324.64,228.87 L325.70,227.65 L326.75,226.43 L327.80,225.22 L328.86,224.01 L329.91,222.81 L330.96,221.62 L332.02,220.43 L333.07,219.25 L334.13,218.08 L335.18,216.92 L336.23,215.77 L337.29,214.63 L338.34,213.50 L339.39,212.38 L340.45,211.27 L341.50,210.17 L342.56,209.08 L343.61,208.00 L344.66,206.94 L345.72,205.89 L346.77,204.85 L347.82,203.82 L348.88,202.80 L349.93,201.80 L350.98,200.80 L352.04,199.82 L353.09,198.86 L354.15,197.90 L355.20,196.96 L356.25,196.02 L357.31,195.10 L358.36,194.20 L359.41,193.30 L360.47,192.41 L361.52,191.54 L362.58,190.68 L363.63,189.83 L364.68,188.99 L365.74,188.17 L366.79,187.35 L367.84,186.55 L368.90,185.75 L369.95,184.97 L371.00,184.20 L372.06,183.43 L373.11,182.68 L374.17,181.94 L375.22,181.21 L376.27,180.49 L377.33,179.78 L378.38,179.08 L379.43,178.39 L380.49,177.71 L381.54,177.03 L382.60,176.37 L383.65,175.72 L384.70,175.07 L385.76,174.44 L386.81,173.81 L387.86,173.19 L388.92,172.58 L389.97,171.98 L391.02,171.38 L392.08,170.80 L393.13,170.22 L394.19,169.65 L395.24,169.09 L396.29,168.54 L397.35,167.99 L398.40,167.45 L399.45,166.92 L400.51,166.39 L401.56,165.87 L402.62,165.36 L403.67,164.86 L404.72,164.36 L405.78,163.87 L406.83,163.39 L407.88,162.91 L408.94,162.44 L409.99,161.97 L411.04,161.51 L412.10,161.06 L413.15,160.61 L414.21,160.17 L415.26,159.74 L416.31,159.31 L417.37,158.88 L418.42,158.46 L419.47,158.05 L420.53,157.64 L421.58,157.24 L422.64,156.84 L423.69,156.45 L424.74,156.06 L425.80,155.68 L426.85,155.30 L427.90,154.92 L428.96,154.55 L430.01,154.19 L431.07,153.83 L432.12,153.48 L433.17,153.12 L434.23,152.78 L435.28,152.44 L436.33,152.10 L437.39,151.76 L438.44,151.43 L439.49,151.11 L440.55,150.78 L441.60,150.47 L442.66,150.15 L443.71,149.84 L444.76,149.53 L445.82,149.23 L446.87,148.93 L447.92,148.63 L448.98,148.34 L450.03,148.05 L451.09,147.77 L452.14,147.48 L453.19,147.20 L454.25,146.93 L455.30,146.65" fill="none" stroke="#4646de" stroke-width="1.2" stroke-dasharray="2.4 1.35"/>
<rect x="312.02" y="240.54" width="4.20" height="4.20" fill="#0000ff"/>
<rect x="327.55" y="219.47" width="4.20" height="4.20" fill="#0000ff"/>
<rect x="343.35" y="203.66" width="4.20" height="4.20" fill="#0000ff"/>
<rect x="358.87" y="190.63" width="4.20" height="4.20" fill="#0000ff"/>
<rect x="374.68" y="178.16" width="4.20" height="4.20" fill="#0000ff"/>
<rect x="390.48" y="167.90" width="4.20" height="4.20" fill="#0000ff"/>
<rect x="406.00" y="161.52" width="4.20" height="4.20" fill="#0000ff"/>
<rect x="421.81" y="155.70" width="4.20" height="4.20" fill="#0000ff"/>
<rect x="437.61" y="146.28" width="4.20" height="4.20" fill="#0000ff"/>
<rect x="453.13" y="145.44" width="4.20" height="4.20" fill="#0000ff"/>
<path d="M298.30,254.10 L299.35,254.10 L300.41,254.10 L301.46,254.10 L302.51,254.10 L303.57,254.10 L304.62,254.10 L305.68,254.10 L306.73,254.10 L307.78,254.10 L308.84,254.10 L309.89,254.10 L310.94,254.10 L312.00,254.10 L313.05,254.10 L314.11,254.09 L315.16,254.09 L316.21,254.09 L317.27,254.08 L318.32,254.08 L319.37,254.07 L320.43,254.06 L321.48,254.05 L322.53,254.03 L323.59,254.01 L324.64,253.99 L325.70,253.96 L326.75,253.92 L327.80,253.88 L328.86,253.82 L329.91,253.76 L330.96,253.69 L332.02,253.60 L333.07,253.50 L334.13,253.39 L335.18,253.25 L336.23,253.10 L337.29,252.92 L338.34,252.72 L339.39,252.49 L340.45,252.23 L341.50,251.93 L342.56,251.60 L343.61,251.24 L344.66,250.83 L345.72,250.37 L346.77,249.86 L347.82,249.31 L348.88,248.69 L349.93,248.02 L350.98,247.28 L352.04,246.49 L353.09,245.62 L354.15,244.68 L355.20,243.67 L356.25,242.58 L357.31,241.42 L358.36,240.18 L359.41,238.87 L360.47,237.47 L361.52,236.00 L362.58,234.46 L363.63,232.84 L364.68,231.15 L365.74,229.39 L366.79,227.57 L367.84,225.69 L368.90,223.75 L369.95,221.77 L371.00,219.74 L372.06,217.68 L373.11,215.59 L374.17,213.48 L375.22,211.35 L376.27,209.22 L377.33,207.08 L378.38,204.95 L379.43,202.83 L380.49,200.73 L381.54,198.65 L382.60,196.60 L383.65,194.58 L384.70,192.61 L385.76,190.67 L386.81,188.78 L387.86,186.95 L388.92,185.16 L389.97,183.42 L391.02,181.74 L392.08,180.12 L393.13,178.55 L394.19,177.04 L395.24,175.59 L396.29,174.19 L397.35,172.85 L398.40,171.57 L399.45,170.34 L400.51,169.16 L401.56,168.03 L402.62,166.96 L403.67,165.93 L404.72,164.95 L405.78,164.02 L406.83,163.13 L407.88,162.28 L408.94,161.48 L409.99,160.71 L411.04,159.98 L412.10,159.29 L413.15,158.63 L414.21,158.00 L415.26,157.41 L416.31,156.84 L417.37,156.30 L418.42,155.79 L419.47,155.30 L420.53,154.84 L421.58,154.41 L422.64,153.99 L423.69,153.59 L424.74,153.22 L425.80,152.86 L426.85,152.52 L427.90,152.20 L428.96,151.89 L430.01,151.60 L431.07,151.32 L432.12,151.06 L433.17,150.81 L434.23,150.57 L435.28,150.34 L436.33,150.13 L437.39,149.92 L438.44,149.73 L439.49,149.54 L440.55,149.36 L441.60,149.20 L442.66,149.03 L443.71,148.88 L444.76,148.73 L445.82,148.60 L446.87,148.46 L447.92,148.34 L448.98,148.21 L450.03,148.10 L451.09,147.99 L452.14,147.88 L453.19,147.78 L454.25,147.69 L455.30,147.59" fill="none" stroke="#3d8d3d" stroke-width="1.05" stroke-dasharray="2.4 1.35"/>
<rect x="343.35" y="249.41" width="4.20" height="4.20" fill="#008000"/>
<rect x="358.87" y="229.45" width="4.20" height="4.20" fill="#008000"/>
<rect x="374.68" y="207.27" width="4.20" height="4.20" fill="#008000"/>
<rect x="390.48" y="182.59" width="4.20" height="4.20" fill="#008000"/>
<rect x="406.00" y="154.59" width="4.20" height="4.20" fill="#008000"/>
<rect x="421.81" y="149.88" width="4.20" height="4.20" fill="#008000"/>
<rect x="437.61" y="147.11" width="4.20" height="4.20" fill="#008000"/>
<rect x="453.13" y="148.49" width="4.20" height="4.20" fill="#008000"/>
<rect x="290.5" y="142.5" width="176" height="117" fill="none" stroke="#636363" stroke-width="1"/>
<line x1="298.30" y1="259.5" x2="298.30" y2="262.0" stroke="#808080" stroke-width="0.8"/>
<text x="298.30" y="270.80" font-size="8.60" fill="#262626" color="#262626" text-anchor="middle" textLength="11.93" lengthAdjust="spacingAndGlyphs">0.0</text>
<line x1="329.70" y1="259.5" x2="329.70" y2="262.0" stroke="#808080" stroke-width="0.8"/>
<text x="329.70" y="270.80" font-size="8.60" fill="#262626" color="#262626" text-anchor="middle" textLength="11.93" lengthAdjust="spacingAndGlyphs">0.1</text>
<line x1="361.10" y1="259.5" x2="361.10" y2="262.0" stroke="#808080" stroke-width="0.8"/>
<text x="361.10" y="270.80" font-size="8.60" fill="#262626" color="#262626" text-anchor="middle" textLength="11.93" lengthAdjust="spacingAndGlyphs">0.2</text>
<line x1="392.50" y1="259.5" x2="392.50" y2="262.0" stroke="#808080" stroke-width="0.8"/>
<text x="392.50" y="270.80" font-size="8.60" fill="#262626" color="#262626" text-anchor="middle" textLength="11.93" lengthAdjust="spacingAndGlyphs">0.3</text>
<line x1="423.90" y1="259.5" x2="423.90" y2="262.0" stroke="#808080" stroke-width="0.8"/>
<text x="423.90" y="270.80" font-size="8.60" fill="#262626" color="#262626" text-anchor="middle" textLength="11.93" lengthAdjust="spacingAndGlyphs">0.4</text>
<line x1="455.30" y1="259.5" x2="455.30" y2="262.0" stroke="#808080" stroke-width="0.8"/>
<text x="455.30" y="270.80" font-size="8.60" fill="#262626" color="#262626" text-anchor="middle" textLength="11.93" lengthAdjust="spacingAndGlyphs">0.5</text>
<line x1="287.5" y1="254.10" x2="290.5" y2="254.10" stroke="#808080" stroke-width="0.8"/>
<text x="285.40" y="257.15" font-size="8.60" fill="#3535d2" color="#3535d2" text-anchor="end" textLength="4.77" lengthAdjust="spacingAndGlyphs">0</text>
<line x1="287.5" y1="223.07" x2="290.5" y2="223.07" stroke="#808080" stroke-width="0.8"/>
<text x="285.40" y="226.12" font-size="8.60" fill="#3535d2" color="#3535d2" text-anchor="end" textLength="14.32" lengthAdjust="spacingAndGlyphs">100</text>
<line x1="287.5" y1="192.04" x2="290.5" y2="192.04" stroke="#808080" stroke-width="0.8"/>
<text x="285.40" y="195.09" font-size="8.60" fill="#3535d2" color="#3535d2" text-anchor="end" textLength="14.32" lengthAdjust="spacingAndGlyphs">200</text>
<line x1="287.5" y1="161.01" x2="290.5" y2="161.01" stroke="#808080" stroke-width="0.8"/>
<text x="285.40" y="164.06" font-size="8.60" fill="#3535d2" color="#3535d2" text-anchor="end" textLength="14.32" lengthAdjust="spacingAndGlyphs">300</text>
<line x1="466.5" y1="254.10" x2="469.0" y2="254.10" stroke="#808080" stroke-width="0.8"/>
<text x="471.60" y="257.15" font-size="8.60" fill="#2a8a2a" color="#2a8a2a" textLength="4.77" lengthAdjust="spacingAndGlyphs">0</text>
<line x1="466.5" y1="233.32" x2="469.0" y2="233.32" stroke="#808080" stroke-width="0.8"/>
<text x="471.60" y="236.37" font-size="8.60" fill="#2a8a2a" color="#2a8a2a" textLength="14.32" lengthAdjust="spacingAndGlyphs">500</text>
<line x1="466.5" y1="212.54" x2="469.0" y2="212.54" stroke="#808080" stroke-width="0.8"/>
<text x="471.60" y="215.59" font-size="8.60" fill="#2a8a2a" color="#2a8a2a" textLength="19.09" lengthAdjust="spacingAndGlyphs">1000</text>
<line x1="466.5" y1="191.76" x2="469.0" y2="191.76" stroke="#808080" stroke-width="0.8"/>
<text x="471.60" y="194.81" font-size="8.60" fill="#2a8a2a" color="#2a8a2a" textLength="19.09" lengthAdjust="spacingAndGlyphs">1500</text>
<line x1="466.5" y1="170.98" x2="469.0" y2="170.98" stroke="#808080" stroke-width="0.8"/>
<text x="471.60" y="174.03" font-size="8.60" fill="#2a8a2a" color="#2a8a2a" textLength="19.09" lengthAdjust="spacingAndGlyphs">2000</text>
<line x1="466.5" y1="150.20" x2="469.0" y2="150.20" stroke="#808080" stroke-width="0.8"/>
<text x="471.60" y="153.25" font-size="8.60" fill="#2a8a2a" color="#2a8a2a" textLength="19.09" lengthAdjust="spacingAndGlyphs">2500</text>
<text x="298.20" y="157.70" font-size="11.13" fill="#262626" color="#262626" textLength="38.34" lengthAdjust="spacingAndGlyphs">(e) THF</text>
<rect x="303.00" y="165.00" width="6.00" height="6.00" fill="#0000ff"/>
<rect x="303.00" y="176.90" width="6.00" height="6.00" fill="#008000"/>
<text x="320.60" y="170.20" font-size="8.40" fill="#262626" color="#262626" textLength="43.67" lengthAdjust="spacingAndGlyphs">MRR (n=2)</text>
<text x="320.60" y="182.10" font-size="8.40" fill="#262626" color="#262626" textLength="56.16" lengthAdjust="spacingAndGlyphs">GOMRR (n=6)</text></g>
<g><path d="M550.30,254.10 L551.35,254.08 L552.41,254.01 L553.46,253.90 L554.51,253.75 L555.57,253.57 L556.62,253.34 L557.68,253.08 L558.73,252.79 L559.78,252.46 L560.84,252.09 L561.89,251.70 L562.94,251.27 L564.00,250.81 L565.05,250.32 L566.11,249.79 L567.16,249.24 L568.21,248.66 L569.27,248.06 L570.32,247.43 L571.37,246.77 L572.43,246.09 L573.48,245.38 L574.53,244.65 L575.59,243.90 L576.64,243.13 L577.70,242.33 L578.75,241.52 L579.80,240.69 L580.86,239.84 L581.91,238.98 L582.96,238.10 L584.02,237.21 L585.07,236.30 L586.13,235.38 L587.18,234.45 L588.23,233.50 L589.29,232.55 L590.34,231.58 L591.39,230.61 L592.45,229.63 L593.50,228.64 L594.56,227.64 L595.61,226.64 L596.66,225.63 L597.72,224.62 L598.77,223.61 L599.82,222.59 L600.88,221.57 L601.93,220.54 L602.98,219.52 L604.04,218.49 L605.09,217.47 L606.15,216.44 L607.20,215.42 L608.25,214.39 L609.31,213.37 L610.36,212.35 L611.41,211.34 L612.47,210.32 L613.52,209.31 L614.58,208.30 L615.63,207.30 L616.68,206.30 L617.74,205.31 L618.79,204.32 L619.84,203.33 L620.90,202.35 L621.95,201.38 L623.00,200.41 L624.06,199.45 L625.11,198.50 L626.17,197.55 L627.22,196.61 L628.27,195.68 L629.33,194.75 L630.38,193.83 L631.43,192.92 L632.49,192.01 L633.54,191.12 L634.60,190.23 L635.65,189.35 L636.70,188.47 L637.76,187.61 L638.81,186.75 L639.86,185.90 L640.92,185.06 L641.97,184.22 L643.02,183.40 L644.08,182.58 L645.13,181.77 L646.19,180.97 L647.24,180.18 L648.29,179.40 L649.35,178.62 L650.40,177.85 L651.45,177.09 L652.51,176.34 L653.56,175.60 L654.62,174.86 L655.67,174.14 L656.72,173.42 L657.78,172.71 L658.83,172.00 L659.88,171.31 L660.94,170.62 L661.99,169.94 L663.04,169.27 L664.10,168.61 L665.15,167.95 L666.21,167.30 L667.26,166.66 L668.31,166.03 L669.37,165.40 L670.42,164.78 L671.47,164.17 L672.53,163.57 L673.58,162.97 L674.64,162.38 L675.69,161.80 L676.74,161.22 L677.80,160.65 L678.85,160.09 L679.90,159.53 L680.96,158.99 L682.01,158.44 L683.07,157.91 L684.12,157.38 L685.17,156.86 L686.23,156.34 L687.28,155.83 L688.33,155.33 L689.39,154.83 L690.44,154.33 L691.49,153.85 L692.55,153.37 L693.60,152.89 L694.66,152.43 L695.71,151.96 L696.76,151.51 L697.82,151.05 L698.87,150.61 L699.92,150.17 L700.98,149.73 L702.03,149.30 L703.09,148.87 L704.14,148.45 L705.19,148.04 L706.25,147.63 L707.30,147.22" fill="none" stroke="#4646de" stroke-width="1.2" stroke-dasharray="2.4 1.35"/>
<circle cx="566.12" cy="248.18" r="2.10" fill="#0000ff"/>
<circle cx="581.65" cy="241.53" r="2.10" fill="#0000ff"/>
<circle cx="597.45" cy="227.94" r="2.10" fill="#0000ff"/>
<circle cx="612.97" cy="205.49" r="2.10" fill="#0000ff"/>
<circle cx="628.78" cy="194.12" r="2.10" fill="#0000ff"/>
<circle cx="644.58" cy="178.32" r="2.10" fill="#0000ff"/>
<circle cx="660.10" cy="178.04" r="2.10" fill="#0000ff"/>
<circle cx="675.91" cy="165.84" r="2.10" fill="#0000ff"/>
<circle cx="691.71" cy="148.10" r="2.10" fill="#0000ff"/>
<circle cx="707.23" cy="147.54" r="2.10" fill="#0000ff"/>
<path d="M550.30,254.10 L551.35,254.09 L552.41,254.05 L553.46,253.98 L554.51,253.89 L555.57,253.78 L556.62,253.64 L557.68,253.48 L558.73,253.29 L559.78,253.09 L560.84,252.86 L561.89,252.62 L562.94,252.36 L564.00,252.09 L565.05,251.81 L566.11,251.51 L567.16,251.20 L568.21,250.89 L569.27,250.56 L570.32,250.23 L571.37,249.90 L572.43,249.56 L573.48,249.22 L574.53,248.88 L575.59,248.54 L576.64,248.20 L577.70,247.87 L578.75,247.53 L579.80,247.20 L580.86,246.87 L581.91,246.55 L582.96,246.23 L584.02,245.91 L585.07,245.61 L586.13,245.30 L587.18,245.01 L588.23,244.72 L589.29,244.43 L590.34,244.15 L591.39,243.88 L592.45,243.62 L593.50,243.36 L594.56,243.11 L595.61,242.86 L596.66,242.63 L597.72,242.39 L598.77,242.17 L599.82,241.95 L600.88,241.74 L601.93,241.53 L602.98,241.33 L604.04,241.13 L605.09,240.94 L606.15,240.76 L607.20,240.58 L608.25,240.40 L609.31,240.23 L610.36,240.07 L611.41,239.91 L612.47,239.75 L613.52,239.60 L614.58,239.46 L615.63,239.32 L616.68,239.18 L617.74,239.05 L618.79,238.92 L619.84,238.79 L620.90,238.67 L621.95,238.55 L623.00,238.43 L624.06,238.32 L625.11,238.21 L626.17,238.11 L627.22,238.00 L628.27,237.90 L629.33,237.81 L630.38,237.71 L631.43,237.62 L632.49,237.53 L633.54,237.44 L634.60,237.36 L635.65,237.28 L636.70,237.20 L637.76,237.12 L638.81,237.04 L639.86,236.97 L640.92,236.90 L641.97,236.83 L643.02,236.76 L644.08,236.69 L645.13,236.63 L646.19,236.57 L647.24,236.51 L648.29,236.45 L649.35,236.39 L650.40,236.33 L651.45,236.28 L652.51,236.22 L653.56,236.17 L654.62,236.12 L655.67,236.07 L656.72,236.02 L657.78,235.97 L658.83,235.92 L659.88,235.88 L660.94,235.83 L661.99,235.79 L663.04,235.75 L664.10,235.71 L665.15,235.67 L666.21,235.63 L667.26,235.59 L668.31,235.55 L669.37,235.51 L670.42,235.48 L671.47,235.44 L672.53,235.41 L673.58,235.38 L674.64,235.34 L675.69,235.31 L676.74,235.28 L677.80,235.25 L678.85,235.22 L679.90,235.19 L680.96,235.16 L682.01,235.13 L683.07,235.10 L684.12,235.08 L685.17,235.05 L686.23,235.02 L687.28,235.00 L688.33,234.97 L689.39,234.95 L690.44,234.92 L691.49,234.90 L692.55,234.88 L693.60,234.85 L694.66,234.83 L695.71,234.81 L696.76,234.79 L697.82,234.77 L698.87,234.75 L699.92,234.73 L700.98,234.71 L702.03,234.69 L703.09,234.67 L704.14,234.65 L705.19,234.63 L706.25,234.61 L707.30,234.60" fill="none" stroke="#3a3a3a" stroke-width="0.7" stroke-dasharray="0.8 1.0"/>
<path d="M550.30,254.10 L551.35,254.10 L552.41,254.10 L553.46,254.10 L554.51,254.10 L555.57,254.10 L556.62,254.10 L557.68,254.10 L558.73,254.10 L559.78,254.10 L560.84,254.10 L561.89,254.10 L562.94,254.10 L564.00,254.10 L565.05,254.10 L566.11,254.10 L567.16,254.10 L568.21,254.10 L569.27,254.10 L570.32,254.10 L571.37,254.10 L572.43,254.10 L573.48,254.10 L574.53,254.10 L575.59,254.10 L576.64,254.10 L577.70,254.10 L578.75,254.10 L579.80,254.10 L580.86,254.10 L581.91,254.10 L582.96,254.10 L584.02,254.10 L585.07,254.10 L586.13,254.10 L587.18,254.10 L588.23,254.10 L589.29,254.10 L590.34,254.10 L591.39,254.10 L592.45,254.10 L593.50,254.10 L594.56,254.10 L595.61,254.10 L596.66,254.10 L597.72,254.10 L598.77,254.10 L599.82,254.10 L600.88,254.10 L601.93,254.10 L602.98,254.10 L604.04,254.10 L605.09,254.10 L606.15,254.10 L607.20,254.10 L608.25,254.10 L609.31,254.10 L610.36,254.10 L611.41,254.10 L612.47,254.10 L613.52,254.10 L614.58,254.10 L615.63,254.10 L616.68,254.10 L617.74,254.09 L618.79,254.09 L619.84,254.09 L620.90,254.09 L621.95,254.09 L623.00,254.09 L624.06,254.08 L625.11,254.08 L626.17,254.07 L627.22,254.07 L628.27,254.06 L629.33,254.05 L630.38,254.04 L631.43,254.03 L632.49,254.02 L633.54,254.00 L634.60,253.98 L635.65,253.96 L636.70,253.94 L637.76,253.90 L638.81,253.87 L639.86,253.83 L640.92,253.78 L641.97,253.72 L643.02,253.66 L644.08,253.58 L645.13,253.50 L646.19,253.40 L647.24,253.28 L648.29,253.15 L649.35,253.00 L650.40,252.82 L651.45,252.62 L652.51,252.40 L653.56,252.14 L654.62,251.85 L655.67,251.51 L656.72,251.14 L657.78,250.72 L658.83,250.24 L659.88,249.70 L660.94,249.11 L661.99,248.44 L663.04,247.69 L664.10,246.86 L665.15,245.95 L666.21,244.94 L667.26,243.82 L668.31,242.60 L669.37,241.27 L670.42,239.83 L671.47,238.26 L672.53,236.57 L673.58,234.76 L674.64,232.83 L675.69,230.77 L676.74,228.60 L677.80,226.32 L678.85,223.94 L679.90,221.46 L680.96,218.90 L682.01,216.28 L683.07,213.60 L684.12,210.88 L685.17,208.14 L686.23,205.39 L687.28,202.65 L688.33,199.94 L689.39,197.26 L690.44,194.64 L691.49,192.09 L692.55,189.62 L693.60,187.23 L694.66,184.93 L695.71,182.74 L696.76,180.65 L697.82,178.66 L698.87,176.79 L699.92,175.02 L700.98,173.36 L702.03,171.80 L703.09,170.34 L704.14,168.99 L705.19,167.72 L706.25,166.55 L707.30,165.46" fill="none" stroke="#3a3a3a" stroke-width="0.7" stroke-dasharray="0.8 1.0"/>
<path d="M550.30,254.10 L551.35,254.09 L552.41,254.05 L553.46,253.98 L554.51,253.89 L555.57,253.78 L556.62,253.64 L557.68,253.48 L558.73,253.29 L559.78,253.09 L560.84,252.86 L561.89,252.62 L562.94,252.36 L564.00,252.09 L565.05,251.81 L566.11,251.51 L567.16,251.20 L568.21,250.89 L569.27,250.56 L570.32,250.23 L571.37,249.90 L572.43,249.56 L573.48,249.22 L574.53,248.88 L575.59,248.54 L576.64,248.20 L577.70,247.87 L578.75,247.53 L579.80,247.20 L580.86,246.87 L581.91,246.55 L582.96,246.23 L584.02,245.91 L585.07,245.61 L586.13,245.30 L587.18,245.01 L588.23,244.72 L589.29,244.43 L590.34,244.15 L591.39,243.88 L592.45,243.62 L593.50,243.36 L594.56,243.11 L595.61,242.86 L596.66,242.63 L597.72,242.39 L598.77,242.17 L599.82,241.95 L600.88,241.74 L601.93,241.53 L602.98,241.33 L604.04,241.13 L605.09,240.94 L606.15,240.76 L607.20,240.58 L608.25,240.40 L609.31,240.23 L610.36,240.07 L611.41,239.91 L612.47,239.75 L613.52,239.60 L614.58,239.46 L615.63,239.31 L616.68,239.17 L617.74,239.04 L618.79,238.91 L619.84,238.78 L620.90,238.66 L621.95,238.54 L623.00,238.42 L624.06,238.30 L625.11,238.19 L626.17,238.08 L627.22,237.97 L628.27,237.86 L629.33,237.76 L630.38,237.66 L631.43,237.55 L632.49,237.45 L633.54,237.35 L634.60,237.24 L635.65,237.14 L636.70,237.03 L637.76,236.93 L638.81,236.81 L639.86,236.70 L640.92,236.58 L641.97,236.45 L643.02,236.32 L644.08,236.18 L645.13,236.03 L646.19,235.86 L647.24,235.69 L648.29,235.49 L649.35,235.28 L650.40,235.05 L651.45,234.80 L652.51,234.52 L653.56,234.21 L654.62,233.86 L655.67,233.48 L656.72,233.06 L657.78,232.59 L658.83,232.06 L659.88,231.48 L660.94,230.84 L661.99,230.13 L663.04,229.34 L664.10,228.47 L665.15,227.51 L666.21,226.46 L667.26,225.31 L668.31,224.06 L669.37,222.69 L670.42,221.20 L671.47,219.60 L672.53,217.88 L673.58,216.04 L674.64,214.07 L675.69,211.98 L676.74,209.78 L677.80,207.47 L678.85,205.06 L679.90,202.55 L680.96,199.96 L682.01,197.31 L683.07,194.60 L684.12,191.86 L685.17,189.09 L686.23,186.31 L687.28,183.55 L688.33,180.81 L689.39,178.11 L690.44,175.47 L691.49,172.89 L692.55,170.39 L693.60,167.98 L694.66,165.66 L695.71,163.45 L696.76,161.34 L697.82,159.33 L698.87,157.43 L699.92,155.65 L700.98,153.96 L702.03,152.39 L703.09,150.91 L704.14,149.54 L705.19,148.26 L706.25,147.06 L707.30,145.96" fill="none" stroke="#3d8d3d" stroke-width="1.05" stroke-dasharray="2.4 1.35"/>
<circle cx="566.12" cy="252.06" r="2.10" fill="#008000"/>
<circle cx="581.65" cy="244.58" r="2.10" fill="#008000"/>
<circle cx="597.45" cy="242.36" r="2.10" fill="#008000"/>
<circle cx="612.97" cy="240.70" r="2.10" fill="#008000"/>
<circle cx="628.78" cy="239.03" r="2.10" fill="#008000"/>
<circle cx="644.58" cy="233.77" r="2.10" fill="#008000"/>
<circle cx="660.10" cy="227.11" r="2.10" fill="#008000"/>
<circle cx="675.91" cy="219.63" r="2.10" fill="#008000"/>
<circle cx="691.71" cy="165.57" r="2.10" fill="#008000"/>
<circle cx="707.23" cy="147.54" r="2.10" fill="#008000"/>
<rect x="542.5" y="142.5" width="176" height="117" fill="none" stroke="#636363" stroke-width="1"/>
<line x1="550.30" y1="259.5" x2="550.30" y2="262.0" stroke="#808080" stroke-width="0.8"/>
<text x="550.30" y="270.80" font-size="8.60" fill="#262626" color="#262626" text-anchor="middle" textLength="11.93" lengthAdjust="spacingAndGlyphs">0.0</text>
<line x1="581.70" y1="259.5" x2="581.70" y2="262.0" stroke="#808080" stroke-width="0.8"/>
<text x="581.70" y="270.80" font-size="8.60" fill="#262626" color="#262626" text-anchor="middle" textLength="11.93" lengthAdjust="spacingAndGlyphs">0.1</text>
<line x1="613.10" y1="259.5" x2="613.10" y2="262.0" stroke="#808080" stroke-width="0.8"/>
<text x="613.10" y="270.80" font-size="8.60" fill="#262626" color="#262626" text-anchor="middle" textLength="11.93" lengthAdjust="spacingAndGlyphs">0.2</text>
<line x1="644.50" y1="259.5" x2="644.50" y2="262.0" stroke="#808080" stroke-width="0.8"/>
<text x="644.50" y="270.80" font-size="8.60" fill="#262626" color="#262626" text-anchor="middle" textLength="11.93" lengthAdjust="spacingAndGlyphs">0.3</text>
<line x1="675.90" y1="259.5" x2="675.90" y2="262.0" stroke="#808080" stroke-width="0.8"/>
<text x="675.90" y="270.80" font-size="8.60" fill="#262626" color="#262626" text-anchor="middle" textLength="11.93" lengthAdjust="spacingAndGlyphs">0.4</text>
<line x1="707.30" y1="259.5" x2="707.30" y2="262.0" stroke="#808080" stroke-width="0.8"/>
<text x="707.30" y="270.80" font-size="8.60" fill="#262626" color="#262626" text-anchor="middle" textLength="11.93" lengthAdjust="spacingAndGlyphs">0.5</text>
<line x1="539.5" y1="254.10" x2="542.5" y2="254.10" stroke="#808080" stroke-width="0.8"/>
<text x="537.40" y="257.15" font-size="8.60" fill="#3535d2" color="#3535d2" text-anchor="end" textLength="4.77" lengthAdjust="spacingAndGlyphs">0</text>
<line x1="539.5" y1="227.90" x2="542.5" y2="227.90" stroke="#808080" stroke-width="0.8"/>
<text x="537.40" y="230.95" font-size="8.60" fill="#3535d2" color="#3535d2" text-anchor="end" textLength="14.32" lengthAdjust="spacingAndGlyphs">100</text>
<line x1="539.5" y1="201.70" x2="542.5" y2="201.70" stroke="#808080" stroke-width="0.8"/>
<text x="537.40" y="204.75" font-size="8.60" fill="#3535d2" color="#3535d2" text-anchor="end" textLength="14.32" lengthAdjust="spacingAndGlyphs">200</text>
<line x1="539.5" y1="175.50" x2="542.5" y2="175.50" stroke="#808080" stroke-width="0.8"/>
<text x="537.40" y="178.55" font-size="8.60" fill="#3535d2" color="#3535d2" text-anchor="end" textLength="14.32" lengthAdjust="spacingAndGlyphs">300</text>
<line x1="539.5" y1="149.30" x2="542.5" y2="149.30" stroke="#808080" stroke-width="0.8"/>
<text x="537.40" y="152.35" font-size="8.60" fill="#3535d2" color="#3535d2" text-anchor="end" textLength="14.32" lengthAdjust="spacingAndGlyphs">400</text>
<line x1="718.5" y1="254.10" x2="721.0" y2="254.10" stroke="#808080" stroke-width="0.8"/>
<text x="723.60" y="257.15" font-size="8.60" fill="#2a8a2a" color="#2a8a2a" textLength="4.77" lengthAdjust="spacingAndGlyphs">0</text>
<line x1="718.5" y1="234.88" x2="721.0" y2="234.88" stroke="#808080" stroke-width="0.8"/>
<text x="723.60" y="237.93" font-size="8.60" fill="#2a8a2a" color="#2a8a2a" textLength="14.32" lengthAdjust="spacingAndGlyphs">200</text>
<line x1="718.5" y1="215.66" x2="721.0" y2="215.66" stroke="#808080" stroke-width="0.8"/>
<text x="723.60" y="218.71" font-size="8.60" fill="#2a8a2a" color="#2a8a2a" textLength="14.32" lengthAdjust="spacingAndGlyphs">400</text>
<line x1="718.5" y1="196.44" x2="721.0" y2="196.44" stroke="#808080" stroke-width="0.8"/>
<text x="723.60" y="199.49" font-size="8.60" fill="#2a8a2a" color="#2a8a2a" textLength="14.32" lengthAdjust="spacingAndGlyphs">600</text>
<line x1="718.5" y1="177.22" x2="721.0" y2="177.22" stroke="#808080" stroke-width="0.8"/>
<text x="723.60" y="180.27" font-size="8.60" fill="#2a8a2a" color="#2a8a2a" textLength="14.32" lengthAdjust="spacingAndGlyphs">800</text>
<line x1="718.5" y1="158.00" x2="721.0" y2="158.00" stroke="#808080" stroke-width="0.8"/>
<text x="723.60" y="161.05" font-size="8.60" fill="#2a8a2a" color="#2a8a2a" textLength="19.09" lengthAdjust="spacingAndGlyphs">1000</text>
<text x="550.20" y="157.70" font-size="11.13" fill="#262626" color="#262626" textLength="57.55" lengthAdjust="spacingAndGlyphs">(f) acetone</text>
<circle cx="558.00" cy="168.00" r="3.00" fill="#0000ff"/>
<circle cx="558.00" cy="179.90" r="3.00" fill="#008000"/>
<text x="572.60" y="170.20" font-size="8.40" fill="#262626" color="#262626" textLength="43.67" lengthAdjust="spacingAndGlyphs">MRR (n=2)</text>
<text x="572.60" y="182.10" font-size="8.40" fill="#262626" color="#262626" textLength="30.52" lengthAdjust="spacingAndGlyphs">GOMRR</text>
<text x="690.1" y="206.0" font-size="8.59" fill="#262626" color="#262626" textLength="25.85" lengthAdjust="spacingAndGlyphs">n<tspan font-size="6.01" dy="1.8">2</tspan><tspan dy="-1.8">=14</tspan></text>
<text x="683.2" y="244.3" font-size="8.59" fill="#262626" color="#262626" textLength="20.33" lengthAdjust="spacingAndGlyphs">n<tspan font-size="6.01" dy="1.8">1</tspan><tspan dy="-1.8">=2</tspan></text></g>
<g><path d="M46.30,391.10 L47.35,390.96 L48.41,390.69 L49.46,390.35 L50.51,389.94 L51.57,389.47 L52.62,388.95 L53.68,388.40 L54.73,387.80 L55.78,387.17 L56.84,386.50 L57.89,385.81 L58.94,385.09 L60.00,384.34 L61.05,383.57 L62.11,382.78 L63.16,381.96 L64.21,381.13 L65.27,380.29 L66.32,379.42 L67.37,378.54 L68.43,377.65 L69.48,376.75 L70.53,375.84 L71.59,374.91 L72.64,373.98 L73.70,373.04 L74.75,372.09 L75.80,371.14 L76.86,370.18 L77.91,369.21 L78.96,368.25 L80.02,367.27 L81.07,366.30 L82.13,365.32 L83.18,364.34 L84.23,363.36 L85.29,362.38 L86.34,361.40 L87.39,360.42 L88.45,359.43 L89.50,358.45 L90.56,357.48 L91.61,356.50 L92.66,355.53 L93.72,354.55 L94.77,353.59 L95.82,352.62 L96.88,351.66 L97.93,350.70 L98.98,349.74 L100.04,348.79 L101.09,347.85 L102.15,346.91 L103.20,345.97 L104.25,345.04 L105.31,344.11 L106.36,343.19 L107.41,342.27 L108.47,341.36 L109.52,340.45 L110.58,339.55 L111.63,338.66 L112.68,337.77 L113.74,336.89 L114.79,336.02 L115.84,335.15 L116.90,334.28 L117.95,333.43 L119.00,332.58 L120.06,331.73 L121.11,330.89 L122.17,330.06 L123.22,329.24 L124.27,328.42 L125.33,327.61 L126.38,326.81 L127.43,326.01 L128.49,325.22 L129.54,324.43 L130.60,323.65 L131.65,322.88 L132.70,322.11 L133.76,321.36 L134.81,320.60 L135.86,319.86 L136.92,319.12 L137.97,318.39 L139.02,317.66 L140.08,316.94 L141.13,316.23 L142.19,315.52 L143.24,314.82 L144.29,314.13 L145.35,313.44 L146.40,312.76 L147.45,312.09 L148.51,311.42 L149.56,310.75 L150.62,310.10 L151.67,309.45 L152.72,308.80 L153.78,308.16 L154.83,307.53 L155.88,306.91 L156.94,306.29 L157.99,305.67 L159.04,305.06 L160.10,304.46 L161.15,303.86 L162.21,303.27 L163.26,302.68 L164.31,302.10 L165.37,301.53 L166.42,300.96 L167.47,300.39 L168.53,299.83 L169.58,299.28 L170.64,298.73 L171.69,298.19 L172.74,297.65 L173.80,297.12 L174.85,296.59 L175.90,296.07 L176.96,295.55 L178.01,295.04 L179.07,294.53 L180.12,294.03 L181.17,293.53 L182.23,293.03 L183.28,292.54 L184.33,292.06 L185.39,291.58 L186.44,291.10 L187.49,290.63 L188.55,290.17 L189.60,289.71 L190.66,289.25 L191.71,288.79 L192.76,288.35 L193.82,287.90 L194.87,287.46 L195.92,287.02 L196.98,286.59 L198.03,286.16 L199.09,285.74 L200.14,285.32 L201.19,284.90 L202.25,284.49 L203.30,284.08" fill="none" stroke="#4646de" stroke-width="1.2" stroke-dasharray="2.4 1.35"/>
<polygon points="62.12,380.69 64.47,385.39 59.77,385.39" fill="#0000ff"/>
<polygon points="77.65,361.28 80.00,365.99 75.29,365.99" fill="#0000ff"/>
<polygon points="93.45,358.51 95.80,363.21 91.10,363.21" fill="#0000ff"/>
<polygon points="108.97,338.83 111.33,343.53 106.62,343.53" fill="#0000ff"/>
<polygon points="124.78,325.80 127.13,330.50 122.42,330.50" fill="#0000ff"/>
<polygon points="140.58,314.98 142.93,319.69 138.23,319.69" fill="#0000ff"/>
<polygon points="156.10,301.12 158.46,305.83 153.75,305.83" fill="#0000ff"/>
<polygon points="171.91,292.25 174.26,296.95 169.55,296.95" fill="#0000ff"/>
<polygon points="187.71,292.81 190.06,297.51 185.36,297.51" fill="#0000ff"/>
<polygon points="203.23,281.44 205.59,286.14 200.88,286.14" fill="#0000ff"/>
<path d="M46.30,391.10 L47.35,391.08 L48.41,391.03 L49.46,390.94 L50.51,390.82 L51.57,390.66 L52.62,390.47 L53.68,390.26 L54.73,390.01 L55.78,389.74 L56.84,389.44 L57.89,389.12 L58.94,388.77 L60.00,388.41 L61.05,388.04 L62.11,387.65 L63.16,387.24 L64.21,386.83 L65.27,386.41 L66.32,385.98 L67.37,385.55 L68.43,385.12 L69.48,384.69 L70.53,384.25 L71.59,383.82 L72.64,383.39 L73.70,382.97 L74.75,382.55 L75.80,382.13 L76.86,381.72 L77.91,381.32 L78.96,380.93 L80.02,380.54 L81.07,380.17 L82.13,379.80 L83.18,379.44 L84.23,379.08 L85.29,378.74 L86.34,378.41 L87.39,378.08 L88.45,377.77 L89.50,377.46 L90.56,377.16 L91.61,376.87 L92.66,376.59 L93.72,376.31 L94.77,376.05 L95.82,375.79 L96.88,375.54 L97.93,375.30 L98.98,375.06 L100.04,374.84 L101.09,374.62 L102.15,374.40 L103.20,374.20 L104.25,373.99 L105.31,373.80 L106.36,373.61 L107.41,373.43 L108.47,373.25 L109.52,373.08 L110.58,372.91 L111.63,372.75 L112.68,372.60 L113.74,372.45 L114.79,372.30 L115.84,372.16 L116.90,372.02 L117.95,371.89 L119.00,371.76 L120.06,371.63 L121.11,371.51 L122.17,371.39 L123.22,371.27 L124.27,371.16 L125.33,371.05 L126.38,370.95 L127.43,370.85 L128.49,370.75 L129.54,370.65 L130.60,370.56 L131.65,370.46 L132.70,370.38 L133.76,370.29 L134.81,370.20 L135.86,370.12 L136.92,370.04 L137.97,369.97 L139.02,369.89 L140.08,369.82 L141.13,369.75 L142.19,369.68 L143.24,369.61 L144.29,369.54 L145.35,369.48 L146.40,369.42 L147.45,369.36 L148.51,369.30 L149.56,369.24 L150.62,369.18 L151.67,369.13 L152.72,369.08 L153.78,369.02 L154.83,368.97 L155.88,368.92 L156.94,368.87 L157.99,368.83 L159.04,368.78 L160.10,368.74 L161.15,368.69 L162.21,368.65 L163.26,368.61 L164.31,368.57 L165.37,368.53 L166.42,368.49 L167.47,368.45 L168.53,368.41 L169.58,368.37 L170.64,368.34 L171.69,368.30 L172.74,368.27 L173.80,368.24 L174.85,368.20 L175.90,368.17 L176.96,368.14 L178.01,368.11 L179.07,368.08 L180.12,368.05 L181.17,368.02 L182.23,367.99 L183.28,367.96 L184.33,367.94 L185.39,367.91 L186.44,367.88 L187.49,367.86 L188.55,367.83 L189.60,367.81 L190.66,367.79 L191.71,367.76 L192.76,367.74 L193.82,367.72 L194.87,367.69 L195.92,367.67 L196.98,367.65 L198.03,367.63 L199.09,367.61 L200.14,367.59 L201.19,367.57 L202.25,367.55 L203.30,367.53" fill="none" stroke="#3a3a3a" stroke-width="0.7" stroke-dasharray="0.8 1.0"/>
<path d="M46.30,391.10 L47.35,391.10 L48.41,391.10 L49.46,391.10 L50.51,391.10 L51.57,391.10 L52.62,391.10 L53.68,391.10 L54.73,391.10 L55.78,391.10 L56.84,391.10 L57.89,391.10 L58.94,391.10 L60.00,391.10 L61.05,391.10 L62.11,391.10 L63.16,391.10 L64.21,391.10 L65.27,391.10 L66.32,391.10 L67.37,391.10 L68.43,391.10 L69.48,391.10 L70.53,391.10 L71.59,391.10 L72.64,391.10 L73.70,391.10 L74.75,391.10 L75.80,391.10 L76.86,391.10 L77.91,391.10 L78.96,391.10 L80.02,391.10 L81.07,391.10 L82.13,391.10 L83.18,391.10 L84.23,391.10 L85.29,391.10 L86.34,391.10 L87.39,391.10 L88.45,391.10 L89.50,391.10 L90.56,391.10 L91.61,391.10 L92.66,391.09 L93.72,391.09 L94.77,391.09 L95.82,391.09 L96.88,391.09 L97.93,391.08 L98.98,391.08 L100.04,391.07 L101.09,391.07 L102.15,391.06 L103.20,391.05 L104.25,391.04 L105.31,391.03 L106.36,391.01 L107.41,390.99 L108.47,390.97 L109.52,390.94 L110.58,390.91 L111.63,390.87 L112.68,390.83 L113.74,390.78 L114.79,390.72 L115.84,390.65 L116.90,390.57 L117.95,390.48 L119.00,390.37 L120.06,390.24 L121.11,390.10 L122.17,389.94 L123.22,389.75 L124.27,389.54 L125.33,389.29 L126.38,389.01 L127.43,388.70 L128.49,388.35 L129.54,387.95 L130.60,387.50 L131.65,387.00 L132.70,386.44 L133.76,385.82 L134.81,385.13 L135.86,384.37 L136.92,383.53 L137.97,382.60 L139.02,381.59 L140.08,380.50 L141.13,379.31 L142.19,378.02 L143.24,376.64 L144.29,375.16 L145.35,373.59 L146.40,371.92 L147.45,370.17 L148.51,368.33 L149.56,366.42 L150.62,364.43 L151.67,362.39 L152.72,360.29 L153.78,358.16 L154.83,356.00 L155.88,353.82 L156.94,351.64 L157.99,349.46 L159.04,347.31 L160.10,345.19 L161.15,343.11 L162.21,341.07 L163.26,339.10 L164.31,337.19 L165.37,335.35 L166.42,333.59 L167.47,331.90 L168.53,330.30 L169.58,328.77 L170.64,327.33 L171.69,325.97 L172.74,324.68 L173.80,323.48 L174.85,322.35 L175.90,321.29 L176.96,320.31 L178.01,319.39 L179.07,318.53 L180.12,317.73 L181.17,316.99 L182.23,316.30 L183.28,315.67 L184.33,315.07 L185.39,314.53 L186.44,314.02 L187.49,313.55 L188.55,313.12 L189.60,312.72 L190.66,312.35 L191.71,312.00 L192.76,311.69 L193.82,311.39 L194.87,311.12 L195.92,310.87 L196.98,310.64 L198.03,310.43 L199.09,310.23 L200.14,310.04 L201.19,309.88 L202.25,309.72 L203.30,309.57" fill="none" stroke="#3a3a3a" stroke-width="0.7" stroke-dasharray="0.8 1.0"/>
<path d="M46.30,391.10 L47.35,391.08 L48.41,391.03 L49.46,390.94 L50.51,390.82 L51.57,390.66 L52.62,390.47 L53.68,390.26 L54.73,390.01 L55.78,389.74 L56.84,389.44 L57.89,389.12 L58.94,388.77 L60.00,388.41 L61.05,388.04 L62.11,387.65 L63.16,387.24 L64.21,386.83 L65.27,386.41 L66.32,385.98 L67.37,385.55 L68.43,385.12 L69.48,384.69 L70.53,384.25 L71.59,383.82 L72.64,383.39 L73.70,382.97 L74.75,382.55 L75.80,382.13 L76.86,381.72 L77.91,381.32 L78.96,380.93 L80.02,380.54 L81.07,380.17 L82.13,379.80 L83.18,379.44 L84.23,379.08 L85.29,378.74 L86.34,378.41 L87.39,378.08 L88.45,377.76 L89.50,377.46 L90.56,377.16 L91.61,376.86 L92.66,376.58 L93.72,376.31 L94.77,376.04 L95.82,375.78 L96.88,375.53 L97.93,375.28 L98.98,375.04 L100.04,374.81 L101.09,374.58 L102.15,374.36 L103.20,374.15 L104.25,373.93 L105.31,373.73 L106.36,373.52 L107.41,373.32 L108.47,373.12 L109.52,372.92 L110.58,372.72 L111.63,372.53 L112.68,372.33 L113.74,372.12 L114.79,371.92 L115.84,371.71 L116.90,371.49 L117.95,371.26 L119.00,371.02 L120.06,370.77 L121.11,370.51 L122.17,370.23 L123.22,369.92 L124.27,369.60 L125.33,369.24 L126.38,368.86 L127.43,368.45 L128.49,367.99 L129.54,367.50 L130.60,366.96 L131.65,366.37 L132.70,365.72 L133.76,365.01 L134.81,364.23 L135.86,363.39 L136.92,362.47 L137.97,361.47 L139.02,360.39 L140.08,359.21 L141.13,357.95 L142.19,356.60 L143.24,355.15 L144.29,353.61 L145.35,351.97 L146.40,350.24 L147.45,348.43 L148.51,346.53 L149.56,344.56 L150.62,342.52 L151.67,340.42 L152.72,338.27 L153.78,336.08 L154.83,333.87 L155.88,331.64 L156.94,329.41 L157.99,327.19 L159.04,324.99 L160.10,322.82 L161.15,320.70 L162.21,318.62 L163.26,316.61 L164.31,314.66 L165.37,312.78 L166.42,310.97 L167.47,309.25 L168.53,307.61 L169.58,306.05 L170.64,304.57 L171.69,303.17 L172.74,301.85 L173.80,300.61 L174.85,299.45 L175.90,298.36 L176.96,297.35 L178.01,296.39 L179.07,295.51 L180.12,294.68 L181.17,293.91 L182.23,293.19 L183.28,292.53 L184.33,291.91 L185.39,291.34 L186.44,290.80 L187.49,290.31 L188.55,289.85 L189.60,289.43 L190.66,289.03 L191.71,288.66 L192.76,288.32 L193.82,288.01 L194.87,287.72 L195.92,287.44 L196.98,287.19 L198.03,286.96 L199.09,286.74 L200.14,286.53 L201.19,286.35 L202.25,286.17 L203.30,286.01" fill="none" stroke="#3d8d3d" stroke-width="1.05" stroke-dasharray="2.4 1.35"/>
<polygon points="77.65,379.03 80.00,383.73 75.29,383.73" fill="#008000"/>
<polygon points="93.45,373.48 95.80,378.19 91.10,378.19" fill="#008000"/>
<polygon points="108.97,370.71 111.33,375.41 106.62,375.41" fill="#008000"/>
<polygon points="124.78,369.05 127.13,373.75 122.42,373.75" fill="#008000"/>
<polygon points="140.58,350.47 142.93,355.17 138.23,355.17" fill="#008000"/>
<polygon points="156.10,349.08 158.46,353.79 153.75,353.79" fill="#008000"/>
<polygon points="171.91,293.08 174.26,297.79 169.55,297.79" fill="#008000"/>
<polygon points="187.71,281.44 190.06,286.14 185.36,286.14" fill="#008000"/>
<polygon points="203.23,288.09 205.59,292.80 200.88,292.80" fill="#008000"/>
<rect x="38.5" y="279.5" width="176" height="117" fill="none" stroke="#636363" stroke-width="1"/>
<line x1="46.30" y1="396.5" x2="46.30" y2="399.0" stroke="#808080" stroke-width="0.8"/>
<text x="46.30" y="407.80" font-size="8.60" fill="#262626" color="#262626" text-anchor="middle" textLength="11.93" lengthAdjust="spacingAndGlyphs">0.0</text>
<line x1="77.70" y1="396.5" x2="77.70" y2="399.0" stroke="#808080" stroke-width="0.8"/>
<text x="77.70" y="407.80" font-size="8.60" fill="#262626" color="#262626" text-anchor="middle" textLength="11.93" lengthAdjust="spacingAndGlyphs">0.1</text>
<line x1="109.10" y1="396.5" x2="109.10" y2="399.0" stroke="#808080" stroke-width="0.8"/>
<text x="109.10" y="407.80" font-size="8.60" fill="#262626" color="#262626" text-anchor="middle" textLength="11.93" lengthAdjust="spacingAndGlyphs">0.2</text>
<line x1="140.50" y1="396.5" x2="140.50" y2="399.0" stroke="#808080" stroke-width="0.8"/>
<text x="140.50" y="407.80" font-size="8.60" fill="#262626" color="#262626" text-anchor="middle" textLength="11.93" lengthAdjust="spacingAndGlyphs">0.3</text>
<line x1="171.90" y1="396.5" x2="171.90" y2="399.0" stroke="#808080" stroke-width="0.8"/>
<text x="171.90" y="407.80" font-size="8.60" fill="#262626" color="#262626" text-anchor="middle" textLength="11.93" lengthAdjust="spacingAndGlyphs">0.4</text>
<line x1="203.30" y1="396.5" x2="203.30" y2="399.0" stroke="#808080" stroke-width="0.8"/>
<text x="203.30" y="407.80" font-size="8.60" fill="#262626" color="#262626" text-anchor="middle" textLength="11.93" lengthAdjust="spacingAndGlyphs">0.5</text>
<line x1="35.5" y1="391.10" x2="38.5" y2="391.10" stroke="#808080" stroke-width="0.8"/>
<text x="33.40" y="394.15" font-size="8.60" fill="#3535d2" color="#3535d2" text-anchor="end" textLength="4.77" lengthAdjust="spacingAndGlyphs">0</text>
<line x1="35.5" y1="373.64" x2="38.5" y2="373.64" stroke="#808080" stroke-width="0.8"/>
<text x="33.40" y="376.69" font-size="8.60" fill="#3535d2" color="#3535d2" text-anchor="end" textLength="9.54" lengthAdjust="spacingAndGlyphs">50</text>
<line x1="35.5" y1="356.17" x2="38.5" y2="356.17" stroke="#808080" stroke-width="0.8"/>
<text x="33.40" y="359.22" font-size="8.60" fill="#3535d2" color="#3535d2" text-anchor="end" textLength="14.32" lengthAdjust="spacingAndGlyphs">100</text>
<line x1="35.5" y1="338.71" x2="38.5" y2="338.71" stroke="#808080" stroke-width="0.8"/>
<text x="33.40" y="341.76" font-size="8.60" fill="#3535d2" color="#3535d2" text-anchor="end" textLength="14.32" lengthAdjust="spacingAndGlyphs">150</text>
<line x1="35.5" y1="321.24" x2="38.5" y2="321.24" stroke="#808080" stroke-width="0.8"/>
<text x="33.40" y="324.29" font-size="8.60" fill="#3535d2" color="#3535d2" text-anchor="end" textLength="14.32" lengthAdjust="spacingAndGlyphs">200</text>
<line x1="35.5" y1="303.78" x2="38.5" y2="303.78" stroke="#808080" stroke-width="0.8"/>
<text x="33.40" y="306.83" font-size="8.60" fill="#3535d2" color="#3535d2" text-anchor="end" textLength="14.32" lengthAdjust="spacingAndGlyphs">250</text>
<line x1="35.5" y1="286.31" x2="38.5" y2="286.31" stroke="#808080" stroke-width="0.8"/>
<text x="33.40" y="289.36" font-size="8.60" fill="#3535d2" color="#3535d2" text-anchor="end" textLength="14.32" lengthAdjust="spacingAndGlyphs">300</text>
<line x1="214.5" y1="391.10" x2="217.0" y2="391.10" stroke="#808080" stroke-width="0.8"/>
<text x="219.60" y="394.15" font-size="8.60" fill="#2a8a2a" color="#2a8a2a" textLength="4.77" lengthAdjust="spacingAndGlyphs">0</text>
<line x1="214.5" y1="371.38" x2="217.0" y2="371.38" stroke="#808080" stroke-width="0.8"/>
<text x="219.60" y="374.43" font-size="8.60" fill="#2a8a2a" color="#2a8a2a" textLength="14.32" lengthAdjust="spacingAndGlyphs">200</text>
<line x1="214.5" y1="351.66" x2="217.0" y2="351.66" stroke="#808080" stroke-width="0.8"/>
<text x="219.60" y="354.71" font-size="8.60" fill="#2a8a2a" color="#2a8a2a" textLength="14.32" lengthAdjust="spacingAndGlyphs">400</text>
<line x1="214.5" y1="331.94" x2="217.0" y2="331.94" stroke="#808080" stroke-width="0.8"/>
<text x="219.60" y="334.99" font-size="8.60" fill="#2a8a2a" color="#2a8a2a" textLength="14.32" lengthAdjust="spacingAndGlyphs">600</text>
<line x1="214.5" y1="312.22" x2="217.0" y2="312.22" stroke="#808080" stroke-width="0.8"/>
<text x="219.60" y="315.27" font-size="8.60" fill="#2a8a2a" color="#2a8a2a" textLength="14.32" lengthAdjust="spacingAndGlyphs">800</text>
<line x1="214.5" y1="292.50" x2="217.0" y2="292.50" stroke="#808080" stroke-width="0.8"/>
<text x="219.60" y="295.55" font-size="8.60" fill="#2a8a2a" color="#2a8a2a" textLength="19.09" lengthAdjust="spacingAndGlyphs">1000</text>
<text x="46.20" y="294.70" font-size="11.13" fill="#262626" color="#262626" textLength="57.86" lengthAdjust="spacingAndGlyphs">(g) ethanol</text>
<polygon points="54.00,301.64 57.36,308.36 50.64,308.36" fill="#0000ff"/>
<polygon points="54.00,313.54 57.36,320.26 50.64,320.26" fill="#008000"/>
<text x="68.60" y="307.20" font-size="8.40" fill="#262626" color="#262626" textLength="43.67" lengthAdjust="spacingAndGlyphs">MRR (n=2)</text>
<text x="68.60" y="319.10" font-size="8.40" fill="#262626" color="#262626" textLength="30.52" lengthAdjust="spacingAndGlyphs">GOMRR</text>
<text x="177.8" y="332.2" font-size="8.59" fill="#262626" color="#262626" textLength="25.85" lengthAdjust="spacingAndGlyphs">n<tspan font-size="6.01" dy="1.8">2</tspan><tspan dy="-1.8">=11</tspan></text>
<text x="172.3" y="375.8" font-size="8.59" fill="#262626" color="#262626" textLength="20.33" lengthAdjust="spacingAndGlyphs">n<tspan font-size="6.01" dy="1.8">1</tspan><tspan dy="-1.8">=2</tspan></text></g>
<g><path d="M298.30,391.10 L299.35,388.87 L300.41,386.70 L301.46,384.60 L302.51,382.56 L303.57,380.57 L304.62,378.64 L305.68,376.77 L306.73,374.94 L307.78,373.17 L308.84,371.44 L309.89,369.76 L310.94,368.12 L312.00,366.52 L313.05,364.97 L314.11,363.45 L315.16,361.97 L316.21,360.53 L317.27,359.12 L318.32,357.74 L319.37,356.40 L320.43,355.08 L321.48,353.80 L322.53,352.55 L323.59,351.32 L324.64,350.12 L325.70,348.95 L326.75,347.80 L327.80,346.68 L328.86,345.58 L329.91,344.51 L330.96,343.46 L332.02,342.42 L333.07,341.41 L334.13,340.42 L335.18,339.45 L336.23,338.50 L337.29,337.57 L338.34,336.66 L339.39,335.76 L340.45,334.88 L341.50,334.02 L342.56,333.17 L343.61,332.34 L344.66,331.52 L345.72,330.72 L346.77,329.93 L347.82,329.16 L348.88,328.40 L349.93,327.66 L350.98,326.92 L352.04,326.20 L353.09,325.49 L354.15,324.80 L355.20,324.11 L356.25,323.44 L357.31,322.78 L358.36,322.13 L359.41,321.49 L360.47,320.86 L361.52,320.24 L362.58,319.62 L363.63,319.02 L364.68,318.43 L365.74,317.85 L366.79,317.28 L367.84,316.71 L368.90,316.16 L369.95,315.61 L371.00,315.07 L372.06,314.54 L373.11,314.01 L374.17,313.50 L375.22,312.99 L376.27,312.49 L377.33,311.99 L378.38,311.50 L379.43,311.02 L380.49,310.55 L381.54,310.08 L382.60,309.62 L383.65,309.17 L384.70,308.72 L385.76,308.28 L386.81,307.84 L387.86,307.41 L388.92,306.99 L389.97,306.57 L391.02,306.15 L392.08,305.75 L393.13,305.34 L394.19,304.94 L395.24,304.55 L396.29,304.16 L397.35,303.78 L398.40,303.40 L399.45,303.03 L400.51,302.66 L401.56,302.30 L402.62,301.94 L403.67,301.58 L404.72,301.23 L405.78,300.88 L406.83,300.54 L407.88,300.20 L408.94,299.86 L409.99,299.53 L411.04,299.21 L412.10,298.88 L413.15,298.56 L414.21,298.25 L415.26,297.93 L416.31,297.62 L417.37,297.32 L418.42,297.02 L419.47,296.72 L420.53,296.42 L421.58,296.13 L422.64,295.84 L423.69,295.56 L424.74,295.27 L425.80,294.99 L426.85,294.72 L427.90,294.44 L428.96,294.17 L430.01,293.90 L431.07,293.64 L432.12,293.38 L433.17,293.12 L434.23,292.86 L435.28,292.60 L436.33,292.35 L437.39,292.10 L438.44,291.86 L439.49,291.61 L440.55,291.37 L441.60,291.13 L442.66,290.89 L443.71,290.66 L444.76,290.43 L445.82,290.19 L446.87,289.97 L447.92,289.74 L448.98,289.52 L450.03,289.30 L451.09,289.08 L452.14,288.86 L453.19,288.64 L454.25,288.43 L455.30,288.22" fill="none" stroke="#4646de" stroke-width="1.2" stroke-dasharray="2.4 1.35"/>
<circle cx="314.12" cy="361.34" r="2.10" fill="#0000ff"/>
<circle cx="329.65" cy="346.37" r="2.10" fill="#0000ff"/>
<circle cx="345.45" cy="333.89" r="2.10" fill="#0000ff"/>
<circle cx="360.97" cy="321.42" r="2.10" fill="#0000ff"/>
<circle cx="376.78" cy="307.83" r="2.10" fill="#0000ff"/>
<circle cx="392.58" cy="304.78" r="2.10" fill="#0000ff"/>
<circle cx="408.10" cy="301.73" r="2.10" fill="#0000ff"/>
<circle cx="423.91" cy="296.74" r="2.10" fill="#0000ff"/>
<circle cx="439.71" cy="283.99" r="2.10" fill="#0000ff"/>
<circle cx="455.23" cy="294.53" r="2.10" fill="#0000ff"/>
<path d="M298.30,391.10 L299.35,391.10 L300.41,391.10 L301.46,391.10 L302.51,391.10 L303.57,391.10 L304.62,391.10 L305.68,391.10 L306.73,391.10 L307.78,391.10 L308.84,391.10 L309.89,391.10 L310.94,391.10 L312.00,391.10 L313.05,391.09 L314.11,391.09 L315.16,391.08 L316.21,391.08 L317.27,391.07 L318.32,391.05 L319.37,391.04 L320.43,391.01 L321.48,390.99 L322.53,390.95 L323.59,390.91 L324.64,390.86 L325.70,390.80 L326.75,390.72 L327.80,390.63 L328.86,390.52 L329.91,390.39 L330.96,390.25 L332.02,390.07 L333.07,389.88 L334.13,389.65 L335.18,389.39 L336.23,389.11 L337.29,388.78 L338.34,388.43 L339.39,388.03 L340.45,387.60 L341.50,387.14 L342.56,386.64 L343.61,386.10 L344.66,385.53 L345.72,384.94 L346.77,384.31 L347.82,383.67 L348.88,383.00 L349.93,382.33 L350.98,381.64 L352.04,380.95 L353.09,380.27 L354.15,379.58 L355.20,378.91 L356.25,378.25 L357.31,377.61 L358.36,376.99 L359.41,376.38 L360.47,375.81 L361.52,375.26 L362.58,374.73 L363.63,374.23 L364.68,373.76 L365.74,373.31 L366.79,372.90 L367.84,372.50 L368.90,372.13 L369.95,371.79 L371.00,371.47 L372.06,371.17 L373.11,370.89 L374.17,370.63 L375.22,370.38 L376.27,370.16 L377.33,369.95 L378.38,369.76 L379.43,369.58 L380.49,369.41 L381.54,369.25 L382.60,369.11 L383.65,368.98 L384.70,368.85 L385.76,368.74 L386.81,368.63 L387.86,368.53 L388.92,368.44 L389.97,368.36 L391.02,368.28 L392.08,368.20 L393.13,368.13 L394.19,368.07 L395.24,368.01 L396.29,367.95 L397.35,367.90 L398.40,367.85 L399.45,367.81 L400.51,367.77 L401.56,367.73 L402.62,367.69 L403.67,367.66 L404.72,367.63 L405.78,367.60 L406.83,367.57 L407.88,367.54 L408.94,367.52 L409.99,367.49 L411.04,367.47 L412.10,367.45 L413.15,367.43 L414.21,367.42 L415.26,367.40 L416.31,367.38 L417.37,367.37 L418.42,367.35 L419.47,367.34 L420.53,367.33 L421.58,367.32 L422.64,367.31 L423.69,367.30 L424.74,367.29 L425.80,367.28 L426.85,367.27 L427.90,367.26 L428.96,367.25 L430.01,367.24 L431.07,367.24 L432.12,367.23 L433.17,367.22 L434.23,367.22 L435.28,367.21 L436.33,367.21 L437.39,367.20 L438.44,367.20 L439.49,367.19 L440.55,367.19 L441.60,367.19 L442.66,367.18 L443.71,367.18 L444.76,367.17 L445.82,367.17 L446.87,367.17 L447.92,367.16 L448.98,367.16 L450.03,367.16 L451.09,367.16 L452.14,367.15 L453.19,367.15 L454.25,367.15 L455.30,367.15" fill="none" stroke="#3a3a3a" stroke-width="0.7" stroke-dasharray="0.8 1.0"/>
<path d="M298.30,391.10 L299.35,391.10 L300.41,391.10 L301.46,391.10 L302.51,391.10 L303.57,391.10 L304.62,391.10 L305.68,391.10 L306.73,391.10 L307.78,391.10 L308.84,391.10 L309.89,391.10 L310.94,391.10 L312.00,391.10 L313.05,391.10 L314.11,391.10 L315.16,391.10 L316.21,391.10 L317.27,391.10 L318.32,391.10 L319.37,391.10 L320.43,391.10 L321.48,391.10 L322.53,391.10 L323.59,391.10 L324.64,391.10 L325.70,391.10 L326.75,391.10 L327.80,391.10 L328.86,391.10 L329.91,391.10 L330.96,391.10 L332.02,391.10 L333.07,391.10 L334.13,391.10 L335.18,391.10 L336.23,391.10 L337.29,391.10 L338.34,391.10 L339.39,391.10 L340.45,391.10 L341.50,391.10 L342.56,391.10 L343.61,391.10 L344.66,391.10 L345.72,391.10 L346.77,391.10 L347.82,391.10 L348.88,391.10 L349.93,391.10 L350.98,391.09 L352.04,391.09 L353.09,391.09 L354.15,391.09 L355.20,391.09 L356.25,391.08 L357.31,391.08 L358.36,391.08 L359.41,391.07 L360.47,391.06 L361.52,391.05 L362.58,391.04 L363.63,391.03 L364.68,391.02 L365.74,391.00 L366.79,390.98 L367.84,390.96 L368.90,390.93 L369.95,390.89 L371.00,390.86 L372.06,390.81 L373.11,390.76 L374.17,390.69 L375.22,390.62 L376.27,390.54 L377.33,390.44 L378.38,390.33 L379.43,390.20 L380.49,390.05 L381.54,389.87 L382.60,389.68 L383.65,389.45 L384.70,389.20 L385.76,388.91 L386.81,388.58 L387.86,388.21 L388.92,387.79 L389.97,387.32 L391.02,386.79 L392.08,386.20 L393.13,385.54 L394.19,384.81 L395.24,384.00 L396.29,383.10 L397.35,382.12 L398.40,381.04 L399.45,379.87 L400.51,378.60 L401.56,377.22 L402.62,375.74 L403.67,374.15 L404.72,372.47 L405.78,370.68 L406.83,368.79 L407.88,366.81 L408.94,364.75 L409.99,362.61 L411.04,360.41 L412.10,358.16 L413.15,355.87 L414.21,353.55 L415.26,351.21 L416.31,348.88 L417.37,346.56 L418.42,344.26 L419.47,342.00 L420.53,339.80 L421.58,337.65 L422.64,335.57 L423.69,333.56 L424.74,331.63 L425.80,329.79 L426.85,328.04 L427.90,326.37 L428.96,324.80 L430.01,323.31 L431.07,321.91 L432.12,320.60 L433.17,319.38 L434.23,318.23 L435.28,317.17 L436.33,316.17 L437.39,315.25 L438.44,314.40 L439.49,313.60 L440.55,312.87 L441.60,312.19 L442.66,311.56 L443.71,310.98 L444.76,310.45 L445.82,309.96 L446.87,309.50 L447.92,309.08 L448.98,308.70 L450.03,308.34 L451.09,308.01 L452.14,307.71 L453.19,307.43 L454.25,307.18 L455.30,306.94" fill="none" stroke="#3a3a3a" stroke-width="0.7" stroke-dasharray="0.8 1.0"/>
<path d="M298.30,391.10 L299.35,391.10 L300.41,391.10 L301.46,391.10 L302.51,391.10 L303.57,391.10 L304.62,391.10 L305.68,391.10 L306.73,391.10 L307.78,391.10 L308.84,391.10 L309.89,391.10 L310.94,391.10 L312.00,391.10 L313.05,391.09 L314.11,391.09 L315.16,391.08 L316.21,391.08 L317.27,391.07 L318.32,391.05 L319.37,391.04 L320.43,391.01 L321.48,390.99 L322.53,390.95 L323.59,390.91 L324.64,390.86 L325.70,390.80 L326.75,390.72 L327.80,390.63 L328.86,390.52 L329.91,390.39 L330.96,390.25 L332.02,390.07 L333.07,389.88 L334.13,389.65 L335.18,389.39 L336.23,389.11 L337.29,388.78 L338.34,388.43 L339.39,388.03 L340.45,387.60 L341.50,387.14 L342.56,386.64 L343.61,386.10 L344.66,385.53 L345.72,384.93 L346.77,384.31 L347.82,383.66 L348.88,383.00 L349.93,382.32 L350.98,381.64 L352.04,380.95 L353.09,380.26 L354.15,379.57 L355.20,378.90 L356.25,378.24 L357.31,377.59 L358.36,376.96 L359.41,376.35 L360.47,375.77 L361.52,375.21 L362.58,374.68 L363.63,374.16 L364.68,373.68 L365.74,373.22 L366.79,372.78 L367.84,372.36 L368.90,371.96 L369.95,371.58 L371.00,371.22 L372.06,370.88 L373.11,370.54 L374.17,370.22 L375.22,369.91 L376.27,369.60 L377.33,369.29 L378.38,368.98 L379.43,368.67 L380.49,368.36 L381.54,368.03 L382.60,367.69 L383.65,367.33 L384.70,366.95 L385.76,366.55 L386.81,366.11 L387.86,365.64 L388.92,365.13 L389.97,364.57 L391.02,363.96 L392.08,363.30 L393.13,362.57 L394.19,361.77 L395.24,360.90 L396.29,359.96 L397.35,358.92 L398.40,357.80 L399.45,356.58 L400.51,355.27 L401.56,353.85 L402.62,352.33 L403.67,350.71 L404.72,348.99 L405.78,347.17 L406.83,345.26 L407.88,343.25 L408.94,341.17 L409.99,339.01 L411.04,336.79 L412.10,334.51 L413.15,332.20 L414.21,329.86 L415.26,327.51 L416.31,325.16 L417.37,322.83 L418.42,320.52 L419.47,318.25 L420.53,316.03 L421.58,313.87 L422.64,311.77 L423.69,309.76 L424.74,307.82 L425.80,305.97 L426.85,304.20 L427.90,302.53 L428.96,300.95 L430.01,299.46 L431.07,298.05 L432.12,296.73 L433.17,295.50 L434.23,294.35 L435.28,293.28 L436.33,292.28 L437.39,291.35 L438.44,290.49 L439.49,289.70 L440.55,288.96 L441.60,288.28 L442.66,287.64 L443.71,287.06 L444.76,286.52 L445.82,286.03 L446.87,285.57 L447.92,285.15 L448.98,284.76 L450.03,284.40 L451.09,284.07 L452.14,283.77 L453.19,283.49 L454.25,283.23 L455.30,282.99" fill="none" stroke="#3d8d3d" stroke-width="1.05" stroke-dasharray="2.4 1.35"/>
<circle cx="345.45" cy="384.91" r="2.10" fill="#008000"/>
<circle cx="360.97" cy="374.65" r="2.10" fill="#008000"/>
<circle cx="376.78" cy="369.38" r="2.10" fill="#008000"/>
<circle cx="392.58" cy="367.16" r="2.10" fill="#008000"/>
<circle cx="408.10" cy="318.92" r="2.10" fill="#008000"/>
<circle cx="423.91" cy="314.21" r="2.10" fill="#008000"/>
<circle cx="439.71" cy="296.47" r="2.10" fill="#008000"/>
<circle cx="455.23" cy="283.99" r="2.10" fill="#008000"/>
<rect x="290.5" y="279.5" width="176" height="117" fill="none" stroke="#636363" stroke-width="1"/>
<line x1="298.30" y1="396.5" x2="298.30" y2="399.0" stroke="#808080" stroke-width="0.8"/>
<text x="298.30" y="407.80" font-size="8.60" fill="#262626" color="#262626" text-anchor="middle" textLength="11.93" lengthAdjust="spacingAndGlyphs">0.0</text>
<line x1="329.70" y1="396.5" x2="329.70" y2="399.0" stroke="#808080" stroke-width="0.8"/>
<text x="329.70" y="407.80" font-size="8.60" fill="#262626" color="#262626" text-anchor="middle" textLength="11.93" lengthAdjust="spacingAndGlyphs">0.1</text>
<line x1="361.10" y1="396.5" x2="361.10" y2="399.0" stroke="#808080" stroke-width="0.8"/>
<text x="361.10" y="407.80" font-size="8.60" fill="#262626" color="#262626" text-anchor="middle" textLength="11.93" lengthAdjust="spacingAndGlyphs">0.2</text>
<line x1="392.50" y1="396.5" x2="392.50" y2="399.0" stroke="#808080" stroke-width="0.8"/>
<text x="392.50" y="407.80" font-size="8.60" fill="#262626" color="#262626" text-anchor="middle" textLength="11.93" lengthAdjust="spacingAndGlyphs">0.3</text>
<line x1="423.90" y1="396.5" x2="423.90" y2="399.0" stroke="#808080" stroke-width="0.8"/>
<text x="423.90" y="407.80" font-size="8.60" fill="#262626" color="#262626" text-anchor="middle" textLength="11.93" lengthAdjust="spacingAndGlyphs">0.4</text>
<line x1="455.30" y1="396.5" x2="455.30" y2="399.0" stroke="#808080" stroke-width="0.8"/>
<text x="455.30" y="407.80" font-size="8.60" fill="#262626" color="#262626" text-anchor="middle" textLength="11.93" lengthAdjust="spacingAndGlyphs">0.5</text>
<line x1="287.5" y1="391.10" x2="290.5" y2="391.10" stroke="#808080" stroke-width="0.8"/>
<text x="285.40" y="394.15" font-size="8.60" fill="#3535d2" color="#3535d2" text-anchor="end" textLength="4.77" lengthAdjust="spacingAndGlyphs">0</text>
<line x1="287.5" y1="363.90" x2="290.5" y2="363.90" stroke="#808080" stroke-width="0.8"/>
<text x="285.40" y="366.95" font-size="8.60" fill="#3535d2" color="#3535d2" text-anchor="end" textLength="9.54" lengthAdjust="spacingAndGlyphs">10</text>
<line x1="287.5" y1="336.70" x2="290.5" y2="336.70" stroke="#808080" stroke-width="0.8"/>
<text x="285.40" y="339.75" font-size="8.60" fill="#3535d2" color="#3535d2" text-anchor="end" textLength="9.54" lengthAdjust="spacingAndGlyphs">20</text>
<line x1="287.5" y1="309.50" x2="290.5" y2="309.50" stroke="#808080" stroke-width="0.8"/>
<text x="285.40" y="312.55" font-size="8.60" fill="#3535d2" color="#3535d2" text-anchor="end" textLength="9.54" lengthAdjust="spacingAndGlyphs">30</text>
<line x1="287.5" y1="282.30" x2="290.5" y2="282.30" stroke="#808080" stroke-width="0.8"/>
<text x="285.40" y="285.35" font-size="8.60" fill="#3535d2" color="#3535d2" text-anchor="end" textLength="9.54" lengthAdjust="spacingAndGlyphs">40</text>
<line x1="466.5" y1="391.10" x2="469.0" y2="391.10" stroke="#808080" stroke-width="0.8"/>
<text x="471.60" y="394.15" font-size="8.60" fill="#2a8a2a" color="#2a8a2a" textLength="4.77" lengthAdjust="spacingAndGlyphs">0</text>
<line x1="466.5" y1="364.90" x2="469.0" y2="364.90" stroke="#808080" stroke-width="0.8"/>
<text x="471.60" y="367.95" font-size="8.60" fill="#2a8a2a" color="#2a8a2a" textLength="14.32" lengthAdjust="spacingAndGlyphs">200</text>
<line x1="466.5" y1="338.70" x2="469.0" y2="338.70" stroke="#808080" stroke-width="0.8"/>
<text x="471.60" y="341.75" font-size="8.60" fill="#2a8a2a" color="#2a8a2a" textLength="14.32" lengthAdjust="spacingAndGlyphs">400</text>
<line x1="466.5" y1="312.50" x2="469.0" y2="312.50" stroke="#808080" stroke-width="0.8"/>
<text x="471.60" y="315.55" font-size="8.60" fill="#2a8a2a" color="#2a8a2a" textLength="14.32" lengthAdjust="spacingAndGlyphs">600</text>
<line x1="466.5" y1="286.30" x2="469.0" y2="286.30" stroke="#808080" stroke-width="0.8"/>
<text x="471.60" y="289.35" font-size="8.60" fill="#2a8a2a" color="#2a8a2a" textLength="14.32" lengthAdjust="spacingAndGlyphs">800</text>
<text x="298.20" y="294.70" font-size="11.13" fill="#262626" color="#262626" textLength="48.10" lengthAdjust="spacingAndGlyphs">(h) water</text>
<circle cx="306.00" cy="305.00" r="3.00" fill="#0000ff"/>
<circle cx="306.00" cy="316.90" r="3.00" fill="#008000"/>
<text x="320.60" y="307.20" font-size="8.40" fill="#262626" color="#262626" textLength="43.67" lengthAdjust="spacingAndGlyphs">MRR (n=1)</text>
<text x="320.60" y="319.10" font-size="8.40" fill="#262626" color="#262626" textLength="30.52" lengthAdjust="spacingAndGlyphs">GOMRR</text>
<text x="431.2" y="332.2" font-size="8.59" fill="#262626" color="#262626" textLength="25.85" lengthAdjust="spacingAndGlyphs">n<tspan font-size="6.01" dy="1.8">2</tspan><tspan dy="-1.8">=12</tspan></text>
<text x="425.7" y="374.9" font-size="8.59" fill="#262626" color="#262626" textLength="20.33" lengthAdjust="spacingAndGlyphs">n<tspan font-size="6.01" dy="1.8">1</tspan><tspan dy="-1.8">=6</tspan></text></g>
<g><path d="M550.30,391.10 L551.35,391.10 L552.41,391.10 L553.46,391.10 L554.51,391.09 L555.57,391.09 L556.62,391.08 L557.68,391.06 L558.73,391.04 L559.78,391.02 L560.84,390.99 L561.89,390.95 L562.94,390.90 L564.00,390.85 L565.05,390.79 L566.11,390.72 L567.16,390.64 L568.21,390.55 L569.27,390.44 L570.32,390.33 L571.37,390.20 L572.43,390.06 L573.48,389.90 L574.53,389.74 L575.59,389.55 L576.64,389.35 L577.70,389.14 L578.75,388.91 L579.80,388.66 L580.86,388.39 L581.91,388.11 L582.96,387.80 L584.02,387.48 L585.07,387.14 L586.13,386.78 L587.18,386.40 L588.23,386.00 L589.29,385.58 L590.34,385.14 L591.39,384.67 L592.45,384.19 L593.50,383.69 L594.56,383.16 L595.61,382.61 L596.66,382.04 L597.72,381.45 L598.77,380.84 L599.82,380.20 L600.88,379.55 L601.93,378.87 L602.98,378.17 L604.04,377.45 L605.09,376.71 L606.15,375.95 L607.20,375.17 L608.25,374.37 L609.31,373.55 L610.36,372.71 L611.41,371.85 L612.47,370.97 L613.52,370.08 L614.58,369.16 L615.63,368.23 L616.68,367.29 L617.74,366.33 L618.79,365.35 L619.84,364.36 L620.90,363.35 L621.95,362.33 L623.00,361.30 L624.06,360.25 L625.11,359.20 L626.17,358.13 L627.22,357.05 L628.27,355.96 L629.33,354.87 L630.38,353.76 L631.43,352.65 L632.49,351.53 L633.54,350.41 L634.60,349.28 L635.65,348.15 L636.70,347.01 L637.76,345.87 L638.81,344.72 L639.86,343.58 L640.92,342.43 L641.97,341.28 L643.02,340.13 L644.08,338.98 L645.13,337.84 L646.19,336.69 L647.24,335.55 L648.29,334.41 L649.35,333.27 L650.40,332.14 L651.45,331.01 L652.51,329.88 L653.56,328.76 L654.62,327.65 L655.67,326.54 L656.72,325.44 L657.78,324.34 L658.83,323.25 L659.88,322.17 L660.94,321.10 L661.99,320.04 L663.04,318.98 L664.10,317.93 L665.15,316.89 L666.21,315.86 L667.26,314.84 L668.31,313.83 L669.37,312.83 L670.42,311.84 L671.47,310.86 L672.53,309.89 L673.58,308.93 L674.64,307.98 L675.69,307.04 L676.74,306.11 L677.80,305.19 L678.85,304.28 L679.90,303.39 L680.96,302.50 L682.01,301.63 L683.07,300.76 L684.12,299.91 L685.17,299.07 L686.23,298.24 L687.28,297.42 L688.33,296.61 L689.39,295.81 L690.44,295.02 L691.49,294.25 L692.55,293.48 L693.60,292.72 L694.66,291.98 L695.71,291.24 L696.76,290.52 L697.82,289.81 L698.87,289.10 L699.92,288.41 L700.98,287.73 L702.03,287.06 L703.09,286.39 L704.14,285.74 L705.19,285.10 L706.25,284.47 L707.30,283.84" fill="none" stroke="#4646de" stroke-width="1.2" stroke-dasharray="2.4 1.35"/>
<polygon points="595.60,387.12 600.30,384.77 600.30,389.48" fill="#0000ff"/>
<polygon points="611.12,367.16 615.83,364.81 615.83,369.51" fill="#0000ff"/>
<polygon points="626.92,353.30 631.63,350.95 631.63,355.65" fill="#0000ff"/>
<polygon points="642.73,339.44 647.43,337.09 647.43,341.79" fill="#0000ff"/>
<polygon points="658.25,321.97 662.96,319.62 662.96,324.32" fill="#0000ff"/>
<polygon points="674.05,306.17 678.76,303.82 678.76,308.52" fill="#0000ff"/>
<polygon points="689.86,292.31 694.56,289.96 694.56,294.66" fill="#0000ff"/>
<polygon points="705.38,284.54 710.09,282.19 710.09,286.90" fill="#0000ff"/>
<path d="M550.30,391.10 L551.35,391.08 L552.41,391.03 L553.46,390.95 L554.51,390.84 L555.57,390.69 L556.62,390.51 L557.68,390.30 L558.73,390.05 L559.78,389.78 L560.84,389.47 L561.89,389.13 L562.94,388.77 L564.00,388.37 L565.05,387.94 L566.11,387.48 L567.16,387.00 L568.21,386.49 L569.27,385.95 L570.32,385.38 L571.37,384.79 L572.43,384.17 L573.48,383.53 L574.53,382.87 L575.59,382.18 L576.64,381.47 L577.70,380.73 L578.75,379.98 L579.80,379.21 L580.86,378.42 L581.91,377.61 L582.96,376.78 L584.02,375.93 L585.07,375.07 L586.13,374.20 L587.18,373.31 L588.23,372.40 L589.29,371.49 L590.34,370.56 L591.39,369.62 L592.45,368.67 L593.50,367.71 L594.56,366.74 L595.61,365.76 L596.66,364.78 L597.72,363.79 L598.77,362.79 L599.82,361.79 L600.88,360.78 L601.93,359.77 L602.98,358.75 L604.04,357.73 L605.09,356.71 L606.15,355.69 L607.20,354.67 L608.25,353.64 L609.31,352.62 L610.36,351.59 L611.41,350.57 L612.47,349.55 L613.52,348.53 L614.58,347.51 L615.63,346.50 L616.68,345.48 L617.74,344.47 L618.79,343.47 L619.84,342.47 L620.90,341.47 L621.95,340.48 L623.00,339.49 L624.06,338.51 L625.11,337.53 L626.17,336.56 L627.22,335.59 L628.27,334.64 L629.33,333.68 L630.38,332.74 L631.43,331.80 L632.49,330.87 L633.54,329.94 L634.60,329.02 L635.65,328.11 L636.70,327.21 L637.76,326.31 L638.81,325.43 L639.86,324.55 L640.92,323.67 L641.97,322.81 L643.02,321.95 L644.08,321.10 L645.13,320.26 L646.19,319.43 L647.24,318.61 L648.29,317.79 L649.35,316.99 L650.40,316.19 L651.45,315.40 L652.51,314.61 L653.56,313.84 L654.62,313.07 L655.67,312.31 L656.72,311.56 L657.78,310.82 L658.83,310.09 L659.88,309.36 L660.94,308.64 L661.99,307.94 L663.04,307.23 L664.10,306.54 L665.15,305.86 L666.21,305.18 L667.26,304.51 L668.31,303.85 L669.37,303.19 L670.42,302.54 L671.47,301.91 L672.53,301.27 L673.58,300.65 L674.64,300.03 L675.69,299.42 L676.74,298.82 L677.80,298.23 L678.85,297.64 L679.90,297.06 L680.96,296.48 L682.01,295.92 L683.07,295.36 L684.12,294.80 L685.17,294.26 L686.23,293.72 L687.28,293.18 L688.33,292.66 L689.39,292.14 L690.44,291.62 L691.49,291.11 L692.55,290.61 L693.60,290.12 L694.66,289.63 L695.71,289.14 L696.76,288.67 L697.82,288.19 L698.87,287.73 L699.92,287.27 L700.98,286.81 L702.03,286.36 L703.09,285.92 L704.14,285.48 L705.19,285.05 L706.25,284.62 L707.30,284.20" fill="none" stroke="#3d8d3d" stroke-width="1.05" stroke-dasharray="2.4 1.35"/>
<polygon points="579.79,376.59 584.50,374.24 584.50,378.94" fill="#008000"/>
<polygon points="595.60,364.39 600.30,362.04 600.30,366.74" fill="#008000"/>
<polygon points="611.12,353.85 615.83,351.50 615.83,356.21" fill="#008000"/>
<polygon points="626.92,334.45 631.63,332.10 631.63,336.80" fill="#008000"/>
<polygon points="642.73,315.04 647.43,312.69 647.43,317.39" fill="#008000"/>
<polygon points="658.25,304.78 662.96,302.43 662.96,307.14" fill="#008000"/>
<polygon points="674.05,301.73 678.76,299.38 678.76,304.09" fill="#008000"/>
<polygon points="689.86,292.03 694.56,289.68 694.56,294.38" fill="#008000"/>
<polygon points="705.38,284.54 710.09,282.19 710.09,286.90" fill="#008000"/>
<rect x="542.5" y="279.5" width="176" height="117" fill="none" stroke="#636363" stroke-width="1"/>
<line x1="550.30" y1="396.5" x2="550.30" y2="399.0" stroke="#808080" stroke-width="0.8"/>
<text x="550.30" y="407.80" font-size="8.60" fill="#262626" color="#262626" text-anchor="middle" textLength="11.93" lengthAdjust="spacingAndGlyphs">0.0</text>
<line x1="581.70" y1="396.5" x2="581.70" y2="399.0" stroke="#808080" stroke-width="0.8"/>
<text x="581.70" y="407.80" font-size="8.60" fill="#262626" color="#262626" text-anchor="middle" textLength="11.93" lengthAdjust="spacingAndGlyphs">0.1</text>
<line x1="613.10" y1="396.5" x2="613.10" y2="399.0" stroke="#808080" stroke-width="0.8"/>
<text x="613.10" y="407.80" font-size="8.60" fill="#262626" color="#262626" text-anchor="middle" textLength="11.93" lengthAdjust="spacingAndGlyphs">0.2</text>
<line x1="644.50" y1="396.5" x2="644.50" y2="399.0" stroke="#808080" stroke-width="0.8"/>
<text x="644.50" y="407.80" font-size="8.60" fill="#262626" color="#262626" text-anchor="middle" textLength="11.93" lengthAdjust="spacingAndGlyphs">0.3</text>
<line x1="675.90" y1="396.5" x2="675.90" y2="399.0" stroke="#808080" stroke-width="0.8"/>
<text x="675.90" y="407.80" font-size="8.60" fill="#262626" color="#262626" text-anchor="middle" textLength="11.93" lengthAdjust="spacingAndGlyphs">0.4</text>
<line x1="707.30" y1="396.5" x2="707.30" y2="399.0" stroke="#808080" stroke-width="0.8"/>
<text x="707.30" y="407.80" font-size="8.60" fill="#262626" color="#262626" text-anchor="middle" textLength="11.93" lengthAdjust="spacingAndGlyphs">0.5</text>
<line x1="539.5" y1="391.10" x2="542.5" y2="391.10" stroke="#808080" stroke-width="0.8"/>
<text x="537.40" y="394.15" font-size="8.60" fill="#3535d2" color="#3535d2" text-anchor="end" textLength="4.77" lengthAdjust="spacingAndGlyphs">0</text>
<line x1="539.5" y1="374.00" x2="542.5" y2="374.00" stroke="#808080" stroke-width="0.8"/>
<text x="537.40" y="377.05" font-size="8.60" fill="#3535d2" color="#3535d2" text-anchor="end" textLength="9.54" lengthAdjust="spacingAndGlyphs">25</text>
<line x1="539.5" y1="356.90" x2="542.5" y2="356.90" stroke="#808080" stroke-width="0.8"/>
<text x="537.40" y="359.95" font-size="8.60" fill="#3535d2" color="#3535d2" text-anchor="end" textLength="9.54" lengthAdjust="spacingAndGlyphs">50</text>
<line x1="539.5" y1="339.80" x2="542.5" y2="339.80" stroke="#808080" stroke-width="0.8"/>
<text x="537.40" y="342.85" font-size="8.60" fill="#3535d2" color="#3535d2" text-anchor="end" textLength="9.54" lengthAdjust="spacingAndGlyphs">75</text>
<line x1="539.5" y1="322.70" x2="542.5" y2="322.70" stroke="#808080" stroke-width="0.8"/>
<text x="537.40" y="325.75" font-size="8.60" fill="#3535d2" color="#3535d2" text-anchor="end" textLength="14.32" lengthAdjust="spacingAndGlyphs">100</text>
<line x1="539.5" y1="305.60" x2="542.5" y2="305.60" stroke="#808080" stroke-width="0.8"/>
<text x="537.40" y="308.65" font-size="8.60" fill="#3535d2" color="#3535d2" text-anchor="end" textLength="14.32" lengthAdjust="spacingAndGlyphs">125</text>
<line x1="539.5" y1="288.50" x2="542.5" y2="288.50" stroke="#808080" stroke-width="0.8"/>
<text x="537.40" y="291.55" font-size="8.60" fill="#3535d2" color="#3535d2" text-anchor="end" textLength="14.32" lengthAdjust="spacingAndGlyphs">150</text>
<line x1="718.5" y1="391.10" x2="721.0" y2="391.10" stroke="#808080" stroke-width="0.8"/>
<text x="723.60" y="394.15" font-size="8.60" fill="#2a8a2a" color="#2a8a2a" textLength="4.77" lengthAdjust="spacingAndGlyphs">0</text>
<line x1="718.5" y1="371.38" x2="721.0" y2="371.38" stroke="#808080" stroke-width="0.8"/>
<text x="723.60" y="374.43" font-size="8.60" fill="#2a8a2a" color="#2a8a2a" textLength="9.54" lengthAdjust="spacingAndGlyphs">25</text>
<line x1="718.5" y1="351.66" x2="721.0" y2="351.66" stroke="#808080" stroke-width="0.8"/>
<text x="723.60" y="354.71" font-size="8.60" fill="#2a8a2a" color="#2a8a2a" textLength="9.54" lengthAdjust="spacingAndGlyphs">50</text>
<line x1="718.5" y1="331.94" x2="721.0" y2="331.94" stroke="#808080" stroke-width="0.8"/>
<text x="723.60" y="334.99" font-size="8.60" fill="#2a8a2a" color="#2a8a2a" textLength="9.54" lengthAdjust="spacingAndGlyphs">75</text>
<line x1="718.5" y1="312.22" x2="721.0" y2="312.22" stroke="#808080" stroke-width="0.8"/>
<text x="723.60" y="315.27" font-size="8.60" fill="#2a8a2a" color="#2a8a2a" textLength="14.32" lengthAdjust="spacingAndGlyphs">100</text>
<line x1="718.5" y1="292.50" x2="721.0" y2="292.50" stroke="#808080" stroke-width="0.8"/>
<text x="723.60" y="295.55" font-size="8.60" fill="#2a8a2a" color="#2a8a2a" textLength="14.32" lengthAdjust="spacingAndGlyphs">125</text>
<text x="550.20" y="294.70" font-size="11.13" fill="#262626" color="#262626" textLength="53.14" lengthAdjust="spacingAndGlyphs">(i) hexane</text>
<polygon points="554.64,305.00 561.36,301.64 561.36,308.36" fill="#0000ff"/>
<polygon points="554.64,316.90 561.36,313.54 561.36,320.26" fill="#008000"/>
<text x="572.60" y="307.20" font-size="8.40" fill="#262626" color="#262626" textLength="43.67" lengthAdjust="spacingAndGlyphs">MRR (n=3)</text>
<text x="572.60" y="319.10" font-size="8.40" fill="#262626" color="#262626" textLength="56.16" lengthAdjust="spacingAndGlyphs">GOMRR (n=2)</text></g>
<text transform="translate(11.60,63.80) rotate(-90)" x="0" y="0" font-size="9.86" fill="#3535d2" color="#3535d2" text-anchor="middle" textLength="70.00" lengthAdjust="spacingAndGlyphs">MRR Δ<tspan font-style="italic">λ</tspan><tspan font-size="6.90" font-style="italic" dy="1.9">eq</tspan><tspan dy="-1.9"> (pm)</tspan></text>
<text transform="translate(249.80,63.80) rotate(-90)" x="0" y="0" font-size="9.86" fill="#2a8a2a" color="#2a8a2a" text-anchor="middle" textLength="85.00" lengthAdjust="spacingAndGlyphs">GOMRR Δ<tspan font-style="italic">λ</tspan><tspan font-size="6.90" font-style="italic" dy="1.9">eq</tspan><tspan dy="-1.9"> (pm)</tspan></text>
<text transform="translate(11.60,200.80) rotate(-90)" x="0" y="0" font-size="9.86" fill="#3535d2" color="#3535d2" text-anchor="middle" textLength="70.00" lengthAdjust="spacingAndGlyphs">MRR Δ<tspan font-style="italic">λ</tspan><tspan font-size="6.90" font-style="italic" dy="1.9">eq</tspan><tspan dy="-1.9"> (pm)</tspan></text>
<text transform="translate(249.80,200.80) rotate(-90)" x="0" y="0" font-size="9.86" fill="#2a8a2a" color="#2a8a2a" text-anchor="middle" textLength="85.00" lengthAdjust="spacingAndGlyphs">GOMRR Δ<tspan font-style="italic">λ</tspan><tspan font-size="6.90" font-style="italic" dy="1.9">eq</tspan><tspan dy="-1.9"> (pm)</tspan></text>
<text transform="translate(11.60,337.80) rotate(-90)" x="0" y="0" font-size="9.86" fill="#3535d2" color="#3535d2" text-anchor="middle" textLength="70.00" lengthAdjust="spacingAndGlyphs">MRR Δ<tspan font-style="italic">λ</tspan><tspan font-size="6.90" font-style="italic" dy="1.9">eq</tspan><tspan dy="-1.9"> (pm)</tspan></text>
<text transform="translate(249.80,337.80) rotate(-90)" x="0" y="0" font-size="9.86" fill="#2a8a2a" color="#2a8a2a" text-anchor="middle" textLength="85.00" lengthAdjust="spacingAndGlyphs">GOMRR Δ<tspan font-style="italic">λ</tspan><tspan font-size="6.90" font-style="italic" dy="1.9">eq</tspan><tspan dy="-1.9"> (pm)</tspan></text>
<text transform="translate(263.60,63.80) rotate(-90)" x="0" y="0" font-size="9.86" fill="#3535d2" color="#3535d2" text-anchor="middle" textLength="70.00" lengthAdjust="spacingAndGlyphs">MRR Δ<tspan font-style="italic">λ</tspan><tspan font-size="6.90" font-style="italic" dy="1.9">eq</tspan><tspan dy="-1.9"> (pm)</tspan></text>
<text transform="translate(501.80,63.80) rotate(-90)" x="0" y="0" font-size="9.86" fill="#2a8a2a" color="#2a8a2a" text-anchor="middle" textLength="85.00" lengthAdjust="spacingAndGlyphs">GOMRR Δ<tspan font-style="italic">λ</tspan><tspan font-size="6.90" font-style="italic" dy="1.9">eq</tspan><tspan dy="-1.9"> (pm)</tspan></text>
<text transform="translate(263.60,200.80) rotate(-90)" x="0" y="0" font-size="9.86" fill="#3535d2" color="#3535d2" text-anchor="middle" textLength="70.00" lengthAdjust="spacingAndGlyphs">MRR Δ<tspan font-style="italic">λ</tspan><tspan font-size="6.90" font-style="italic" dy="1.9">eq</tspan><tspan dy="-1.9"> (pm)</tspan></text>
<text transform="translate(501.80,200.80) rotate(-90)" x="0" y="0" font-size="9.86" fill="#2a8a2a" color="#2a8a2a" text-anchor="middle" textLength="85.00" lengthAdjust="spacingAndGlyphs">GOMRR Δ<tspan font-style="italic">λ</tspan><tspan font-size="6.90" font-style="italic" dy="1.9">eq</tspan><tspan dy="-1.9"> (pm)</tspan></text>
<text transform="translate(268.70,337.80) rotate(-90)" x="0" y="0" font-size="9.86" fill="#3535d2" color="#3535d2" text-anchor="middle" textLength="70.00" lengthAdjust="spacingAndGlyphs">MRR Δ<tspan font-style="italic">λ</tspan><tspan font-size="6.90" font-style="italic" dy="1.9">eq</tspan><tspan dy="-1.9"> (pm)</tspan></text>
<text transform="translate(497.10,337.80) rotate(-90)" x="0" y="0" font-size="9.86" fill="#2a8a2a" color="#2a8a2a" text-anchor="middle" textLength="85.00" lengthAdjust="spacingAndGlyphs">GOMRR Δ<tspan font-style="italic">λ</tspan><tspan font-size="6.90" font-style="italic" dy="1.9">eq</tspan><tspan dy="-1.9"> (pm)</tspan></text>
<text transform="translate(515.60,63.80) rotate(-90)" x="0" y="0" font-size="9.86" fill="#3535d2" color="#3535d2" text-anchor="middle" textLength="70.00" lengthAdjust="spacingAndGlyphs">MRR Δ<tspan font-style="italic">λ</tspan><tspan font-size="6.90" font-style="italic" dy="1.9">eq</tspan><tspan dy="-1.9"> (pm)</tspan></text>
<text transform="translate(754.00,63.80) rotate(-90)" x="0" y="0" font-size="9.86" fill="#2a8a2a" color="#2a8a2a" text-anchor="middle" textLength="85.00" lengthAdjust="spacingAndGlyphs">GOMRR Δ<tspan font-style="italic">λ</tspan><tspan font-size="6.90" font-style="italic" dy="1.9">eq</tspan><tspan dy="-1.9"> (pm)</tspan></text>
<text transform="translate(515.60,200.80) rotate(-90)" x="0" y="0" font-size="9.86" fill="#3535d2" color="#3535d2" text-anchor="middle" textLength="70.00" lengthAdjust="spacingAndGlyphs">MRR Δ<tspan font-style="italic">λ</tspan><tspan font-size="6.90" font-style="italic" dy="1.9">eq</tspan><tspan dy="-1.9"> (pm)</tspan></text>
<text transform="translate(754.00,200.80) rotate(-90)" x="0" y="0" font-size="9.86" fill="#2a8a2a" color="#2a8a2a" text-anchor="middle" textLength="85.00" lengthAdjust="spacingAndGlyphs">GOMRR Δ<tspan font-style="italic">λ</tspan><tspan font-size="6.90" font-style="italic" dy="1.9">eq</tspan><tspan dy="-1.9"> (pm)</tspan></text>
<text transform="translate(515.60,337.80) rotate(-90)" x="0" y="0" font-size="9.86" fill="#3535d2" color="#3535d2" text-anchor="middle" textLength="70.00" lengthAdjust="spacingAndGlyphs">MRR Δ<tspan font-style="italic">λ</tspan><tspan font-size="6.90" font-style="italic" dy="1.9">eq</tspan><tspan dy="-1.9"> (pm)</tspan></text>
<text transform="translate(748.70,337.80) rotate(-90)" x="0" y="0" font-size="9.86" fill="#2a8a2a" color="#2a8a2a" text-anchor="middle" textLength="85.00" lengthAdjust="spacingAndGlyphs">GOMRR Δ<tspan font-style="italic">λ</tspan><tspan font-size="6.90" font-style="italic" dy="1.9">eq</tspan><tspan dy="-1.9"> (pm)</tspan></text>
<text x="126.6" y="419.3" font-size="10.60" fill="#262626" color="#262626" text-anchor="middle" textLength="25.66" lengthAdjust="spacingAndGlyphs">F<tspan font-size="7.95" font-style="italic" dy="2.3">v</tspan><tspan dy="-2.3">/F</tspan><tspan font-size="7.95" font-style="italic" dy="2.3">d</tspan></text>
<text x="378.6" y="419.3" font-size="10.60" fill="#262626" color="#262626" text-anchor="middle" textLength="25.66" lengthAdjust="spacingAndGlyphs">F<tspan font-size="7.95" font-style="italic" dy="2.3">v</tspan><tspan dy="-2.3">/F</tspan><tspan font-size="7.95" font-style="italic" dy="2.3">d</tspan></text>
<text x="630.6" y="419.3" font-size="10.60" fill="#262626" color="#262626" text-anchor="middle" textLength="25.66" lengthAdjust="spacingAndGlyphs">F<tspan font-size="7.95" font-style="italic" dy="2.3">v</tspan><tspan dy="-2.3">/F</tspan><tspan font-size="7.95" font-style="italic" dy="2.3">d</tspan></text>
</svg></body></html>
